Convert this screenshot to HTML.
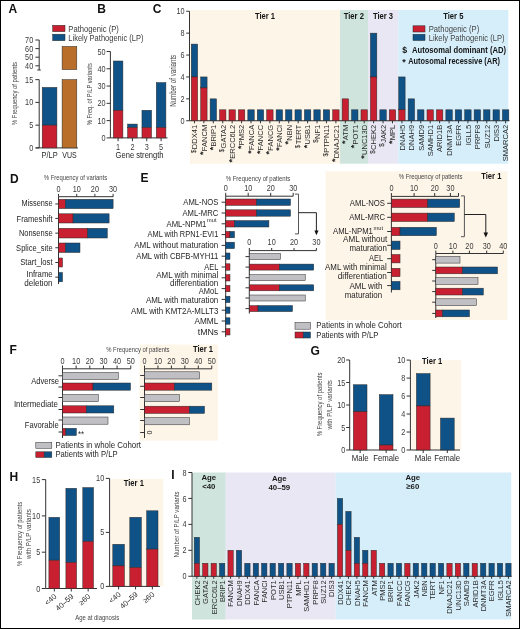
<!DOCTYPE html>
<html><head><meta charset="utf-8"><title>Figure</title>
<style>
html,body{margin:0;padding:0;background:#fff;}
svg{display:block;will-change:transform;}
text{font-family:"Liberation Sans",sans-serif;}
</style></head>
<body>
<svg width="520" height="629" viewBox="0 0 520 629" font-family="Liberation Sans, sans-serif">
<rect x="0.5" y="0.5" width="519" height="628" fill="#fff" stroke="#000" stroke-width="1"/>
<text x="8.5" y="12.8" font-size="12" font-weight="bold" fill="#111">A</text>
<text x="97.3" y="12.5" font-size="12" font-weight="bold" fill="#111">B</text>
<text x="152.7" y="12.5" font-size="12" font-weight="bold" fill="#111">C</text>
<text x="10" y="183" font-size="12" font-weight="bold" fill="#111">D</text>
<text x="140.5" y="182" font-size="12" font-weight="bold" fill="#111">E</text>
<text x="9.5" y="354.3" font-size="12" font-weight="bold" fill="#111">F</text>
<text x="310.5" y="355" font-size="12" font-weight="bold" fill="#111">G</text>
<text x="9.4" y="481" font-size="12" font-weight="bold" fill="#111">H</text>
<text x="171.2" y="479.3" font-size="12" font-weight="bold" fill="#111">I</text>
<rect x="52.70" y="25.30" width="12.30" height="6.40" fill="#c81f31" stroke="#2a2a2a" stroke-width="0.5"/>
<rect x="52.70" y="34.20" width="12.30" height="6.50" fill="#0f5287" stroke="#2a2a2a" stroke-width="0.5"/>
<text x="68.30" y="32.15" font-size="8.13" text-anchor="start" fill="#3a3a3a" textLength="50.60" lengthAdjust="spacingAndGlyphs">Pathogenic (P)</text>
<text x="68.30" y="41.05" font-size="8.13" text-anchor="start" fill="#3a3a3a" textLength="75.20" lengthAdjust="spacingAndGlyphs">Likely Pathogenic (LP)</text>
<line x1="39.20" y1="40.00" x2="39.20" y2="70.00" stroke="#333333" stroke-width="1.0"/>
<line x1="37.30" y1="70.00" x2="40.80" y2="70.00" stroke="#333333" stroke-width="1"/>
<line x1="35.40" y1="40.00" x2="39.20" y2="40.00" stroke="#333333" stroke-width="1.0"/>
<text x="33.20" y="43.07" font-size="8.77" text-anchor="end" fill="#3a3a3a" textLength="8.10" lengthAdjust="spacingAndGlyphs">70</text>
<line x1="35.40" y1="48.60" x2="39.20" y2="48.60" stroke="#333333" stroke-width="1.0"/>
<text x="33.20" y="51.67" font-size="8.77" text-anchor="end" fill="#3a3a3a" textLength="8.10" lengthAdjust="spacingAndGlyphs">60</text>
<line x1="35.40" y1="57.20" x2="39.20" y2="57.20" stroke="#333333" stroke-width="1.0"/>
<text x="33.20" y="60.27" font-size="8.77" text-anchor="end" fill="#3a3a3a" textLength="8.10" lengthAdjust="spacingAndGlyphs">50</text>
<line x1="35.40" y1="65.80" x2="39.20" y2="65.80" stroke="#333333" stroke-width="1.0"/>
<text x="33.20" y="68.87" font-size="8.77" text-anchor="end" fill="#3a3a3a" textLength="8.10" lengthAdjust="spacingAndGlyphs">40</text>
<line x1="39.20" y1="79.60" x2="39.20" y2="147.90" stroke="#333333" stroke-width="1.0"/>
<line x1="35.40" y1="79.65" x2="39.20" y2="79.65" stroke="#333333" stroke-width="1.0"/>
<text x="33.20" y="82.72" font-size="8.77" text-anchor="end" fill="#3a3a3a" textLength="8.10" lengthAdjust="spacingAndGlyphs">15</text>
<line x1="35.40" y1="102.40" x2="39.20" y2="102.40" stroke="#333333" stroke-width="1.0"/>
<text x="33.20" y="105.47" font-size="8.77" text-anchor="end" fill="#3a3a3a" textLength="8.10" lengthAdjust="spacingAndGlyphs">10</text>
<line x1="35.40" y1="125.15" x2="39.20" y2="125.15" stroke="#333333" stroke-width="1.0"/>
<text x="33.20" y="128.22" font-size="8.77" text-anchor="end" fill="#3a3a3a" textLength="4.05" lengthAdjust="spacingAndGlyphs">5</text>
<line x1="35.40" y1="147.90" x2="39.20" y2="147.90" stroke="#333333" stroke-width="1.0"/>
<text x="33.20" y="150.97" font-size="8.77" text-anchor="end" fill="#3a3a3a" textLength="4.05" lengthAdjust="spacingAndGlyphs">0</text>
<line x1="35.80" y1="147.90" x2="77.90" y2="147.90" stroke="#333333" stroke-width="1.0"/>
<rect x="42.20" y="87.39" width="14.70" height="37.77" fill="#0f5287" stroke="#2a2a2a" stroke-width="0.5"/>
<rect x="42.20" y="125.15" width="14.70" height="22.75" fill="#c81f31" stroke="#2a2a2a" stroke-width="0.5"/>
<rect x="62.10" y="79.60" width="14.70" height="68.30" fill="#b96e29" stroke="#2a2a2a" stroke-width="0.5"/>
<rect x="62.10" y="46.40" width="14.70" height="23.20" fill="#b96e29" stroke="#2a2a2a" stroke-width="0.5"/>
<text x="49.60" y="157.95" font-size="8.13" text-anchor="middle" fill="#262626" textLength="16.20" lengthAdjust="spacingAndGlyphs">P/LP</text>
<text x="69.50" y="157.95" font-size="8.13" text-anchor="middle" fill="#262626" textLength="14.40" lengthAdjust="spacingAndGlyphs">VUS</text>
<text transform="translate(17.37,93.50) rotate(-90)" x="0" y="0" font-size="7.92" text-anchor="middle" fill="#444" textLength="63.00" lengthAdjust="spacingAndGlyphs">% Frequency of patients</text>
<line x1="110.40" y1="51.50" x2="110.40" y2="137.90" stroke="#333333" stroke-width="1.0"/>
<line x1="106.60" y1="137.90" x2="110.40" y2="137.90" stroke="#333333" stroke-width="1.0"/>
<text x="105.60" y="140.97" font-size="8.77" text-anchor="end" fill="#3a3a3a" textLength="4.05" lengthAdjust="spacingAndGlyphs">0</text>
<line x1="106.60" y1="120.62" x2="110.40" y2="120.62" stroke="#333333" stroke-width="1.0"/>
<text x="105.60" y="123.69" font-size="8.77" text-anchor="end" fill="#3a3a3a" textLength="8.10" lengthAdjust="spacingAndGlyphs">10</text>
<line x1="106.60" y1="103.34" x2="110.40" y2="103.34" stroke="#333333" stroke-width="1.0"/>
<text x="105.60" y="106.41" font-size="8.77" text-anchor="end" fill="#3a3a3a" textLength="8.10" lengthAdjust="spacingAndGlyphs">20</text>
<line x1="106.60" y1="86.06" x2="110.40" y2="86.06" stroke="#333333" stroke-width="1.0"/>
<text x="105.60" y="89.13" font-size="8.77" text-anchor="end" fill="#3a3a3a" textLength="8.10" lengthAdjust="spacingAndGlyphs">30</text>
<line x1="106.60" y1="68.78" x2="110.40" y2="68.78" stroke="#333333" stroke-width="1.0"/>
<text x="105.60" y="71.85" font-size="8.77" text-anchor="end" fill="#3a3a3a" textLength="8.10" lengthAdjust="spacingAndGlyphs">40</text>
<line x1="106.60" y1="51.50" x2="110.40" y2="51.50" stroke="#333333" stroke-width="1.0"/>
<text x="105.60" y="54.57" font-size="8.77" text-anchor="end" fill="#3a3a3a" textLength="8.10" lengthAdjust="spacingAndGlyphs">50</text>
<line x1="110.40" y1="137.90" x2="167.50" y2="137.90" stroke="#333333" stroke-width="1.0"/>
<rect x="113.30" y="61.00" width="9.60" height="49.25" fill="#0f5287" stroke="#2a2a2a" stroke-width="0.5"/>
<rect x="113.30" y="110.25" width="9.60" height="27.65" fill="#c81f31" stroke="#2a2a2a" stroke-width="0.5"/>
<line x1="118.10" y1="137.90" x2="118.10" y2="141.20" stroke="#333333" stroke-width="1.0"/>
<text x="118.10" y="149.67" font-size="8.77" text-anchor="middle" fill="#3a3a3a" textLength="4.05" lengthAdjust="spacingAndGlyphs">1</text>
<rect x="127.63" y="124.08" width="9.60" height="3.46" fill="#0f5287" stroke="#2a2a2a" stroke-width="0.5"/>
<rect x="127.63" y="127.53" width="9.60" height="10.37" fill="#c81f31" stroke="#2a2a2a" stroke-width="0.5"/>
<line x1="132.43" y1="137.90" x2="132.43" y2="141.20" stroke="#333333" stroke-width="1.0"/>
<text x="132.43" y="149.67" font-size="8.77" text-anchor="middle" fill="#3a3a3a" textLength="4.05" lengthAdjust="spacingAndGlyphs">2</text>
<rect x="141.96" y="110.25" width="9.60" height="17.28" fill="#0f5287" stroke="#2a2a2a" stroke-width="0.5"/>
<rect x="141.96" y="127.53" width="9.60" height="10.37" fill="#c81f31" stroke="#2a2a2a" stroke-width="0.5"/>
<line x1="146.76" y1="137.90" x2="146.76" y2="141.20" stroke="#333333" stroke-width="1.0"/>
<text x="146.76" y="149.67" font-size="8.77" text-anchor="middle" fill="#3a3a3a" textLength="4.05" lengthAdjust="spacingAndGlyphs">3</text>
<rect x="156.29" y="82.60" width="9.60" height="44.93" fill="#0f5287" stroke="#2a2a2a" stroke-width="0.5"/>
<rect x="156.29" y="127.53" width="9.60" height="10.37" fill="#c81f31" stroke="#2a2a2a" stroke-width="0.5"/>
<line x1="161.09" y1="137.90" x2="161.09" y2="141.20" stroke="#333333" stroke-width="1.0"/>
<text x="161.09" y="149.67" font-size="8.77" text-anchor="middle" fill="#3a3a3a" textLength="4.05" lengthAdjust="spacingAndGlyphs">5</text>
<text x="139.60" y="158.05" font-size="8.13" text-anchor="middle" fill="#262626" textLength="48.00" lengthAdjust="spacingAndGlyphs">Gene strength</text>
<text transform="translate(92.37,94.20) rotate(-90)" x="0" y="0" font-size="7.92" text-anchor="middle" fill="#444" textLength="62.00" lengthAdjust="spacingAndGlyphs">% Freq. of P/LP variants</text>
<rect x="190.00" y="10.00" width="150.00" height="153.70" fill="#fef5e9"/>
<rect x="340.00" y="10.00" width="28.00" height="153.70" fill="#cee4dd"/>
<rect x="368.00" y="10.00" width="30.30" height="153.70" fill="#e8e7f3"/>
<rect x="398.30" y="10.00" width="110.00" height="153.70" fill="#d5eefa"/>
<line x1="189.50" y1="11.25" x2="189.50" y2="120.75" stroke="#333333" stroke-width="1.0"/>
<line x1="186.20" y1="120.75" x2="189.50" y2="120.75" stroke="#333333" stroke-width="1.0"/>
<text x="184.60" y="123.82" font-size="8.77" text-anchor="end" fill="#3a3a3a" textLength="4.05" lengthAdjust="spacingAndGlyphs">0</text>
<line x1="186.20" y1="98.85" x2="189.50" y2="98.85" stroke="#333333" stroke-width="1.0"/>
<text x="184.60" y="101.92" font-size="8.77" text-anchor="end" fill="#3a3a3a" textLength="4.05" lengthAdjust="spacingAndGlyphs">2</text>
<line x1="186.20" y1="76.95" x2="189.50" y2="76.95" stroke="#333333" stroke-width="1.0"/>
<text x="184.60" y="80.02" font-size="8.77" text-anchor="end" fill="#3a3a3a" textLength="4.05" lengthAdjust="spacingAndGlyphs">4</text>
<line x1="186.20" y1="55.05" x2="189.50" y2="55.05" stroke="#333333" stroke-width="1.0"/>
<text x="184.60" y="58.12" font-size="8.77" text-anchor="end" fill="#3a3a3a" textLength="4.05" lengthAdjust="spacingAndGlyphs">6</text>
<line x1="186.20" y1="33.15" x2="189.50" y2="33.15" stroke="#333333" stroke-width="1.0"/>
<text x="184.60" y="36.22" font-size="8.77" text-anchor="end" fill="#3a3a3a" textLength="4.05" lengthAdjust="spacingAndGlyphs">8</text>
<line x1="186.20" y1="11.25" x2="189.50" y2="11.25" stroke="#333333" stroke-width="1.0"/>
<text x="184.60" y="14.32" font-size="8.77" text-anchor="end" fill="#3a3a3a" textLength="8.10" lengthAdjust="spacingAndGlyphs">10</text>
<line x1="189.50" y1="120.75" x2="509.50" y2="120.75" stroke="#333333" stroke-width="1.0"/>
<rect x="191.25" y="44.10" width="6.40" height="32.85" fill="#0f5287" stroke="#2a2a2a" stroke-width="0.5"/>
<rect x="191.25" y="76.95" width="6.40" height="43.80" fill="#c81f31" stroke="#2a2a2a" stroke-width="0.5"/>
<line x1="194.45" y1="120.75" x2="194.45" y2="123.30" stroke="#333333" stroke-width="1.0"/>
<g transform="translate(197.28,124.80) rotate(-90)"><text x="0" y="0" font-size="8.1" text-anchor="end" fill="#2a2a2a" textLength="24.34" lengthAdjust="spacingAndGlyphs">DDX41</text><text x="-24.64" y="-1.42" font-size="6.3" text-anchor="end" fill="#2a2a2a">$</text></g>
<rect x="200.68" y="76.95" width="6.40" height="10.95" fill="#0f5287" stroke="#2a2a2a" stroke-width="0.5"/>
<rect x="200.68" y="87.90" width="6.40" height="32.85" fill="#c81f31" stroke="#2a2a2a" stroke-width="0.5"/>
<line x1="203.88" y1="120.75" x2="203.88" y2="123.30" stroke="#333333" stroke-width="1.0"/>
<g transform="translate(206.72,124.80) rotate(-90)"><text x="0" y="0" font-size="8.1" text-anchor="end" fill="#2a2a2a" textLength="26.43" lengthAdjust="spacingAndGlyphs">FANCM</text><text x="-26.62" y="-0.28" font-size="9" font-weight="bold" text-anchor="end" fill="#2a2a2a">*</text></g>
<rect x="210.11" y="98.85" width="6.40" height="21.90" fill="#0f5287" stroke="#2a2a2a" stroke-width="0.5"/>
<line x1="213.31" y1="120.75" x2="213.31" y2="123.30" stroke="#333333" stroke-width="1.0"/>
<g transform="translate(216.15,124.80) rotate(-90)"><text x="0" y="0" font-size="8.1" text-anchor="end" fill="#2a2a2a" textLength="21.82" lengthAdjust="spacingAndGlyphs">BRIP1</text><text x="-22.02" y="-0.28" font-size="9" font-weight="bold" text-anchor="end" fill="#2a2a2a">*</text></g>
<rect x="219.54" y="109.80" width="6.40" height="10.95" fill="#c81f31" stroke="#2a2a2a" stroke-width="0.5"/>
<line x1="222.74" y1="120.75" x2="222.74" y2="123.30" stroke="#333333" stroke-width="1.0"/>
<g transform="translate(225.58,124.80) rotate(-90)"><text x="0" y="0" font-size="8.1" text-anchor="end" fill="#2a2a2a" textLength="23.63" lengthAdjust="spacingAndGlyphs">GATA2</text><text x="-23.93" y="-1.42" font-size="6.3" text-anchor="end" fill="#2a2a2a">$</text></g>
<rect x="228.97" y="109.80" width="6.40" height="10.95" fill="#c81f31" stroke="#2a2a2a" stroke-width="0.5"/>
<line x1="232.17" y1="120.75" x2="232.17" y2="123.30" stroke="#333333" stroke-width="1.0"/>
<g transform="translate(235.01,124.80) rotate(-90)"><text x="0" y="0" font-size="8.1" text-anchor="end" fill="#2a2a2a" textLength="33.99" lengthAdjust="spacingAndGlyphs">ERCC6L2</text><text x="-34.19" y="-0.28" font-size="9" font-weight="bold" text-anchor="end" fill="#2a2a2a">*</text></g>
<rect x="238.40" y="109.80" width="6.40" height="10.95" fill="#c81f31" stroke="#2a2a2a" stroke-width="0.5"/>
<line x1="241.60" y1="120.75" x2="241.60" y2="123.30" stroke="#333333" stroke-width="1.0"/>
<g transform="translate(244.44,124.80) rotate(-90)"><text x="0" y="0" font-size="8.1" text-anchor="end" fill="#2a2a2a" textLength="20.56" lengthAdjust="spacingAndGlyphs">PMS2</text><text x="-20.76" y="-0.28" font-size="9" font-weight="bold" text-anchor="end" fill="#2a2a2a">*</text></g>
<rect x="247.83" y="109.80" width="6.40" height="10.95" fill="#0f5287" stroke="#2a2a2a" stroke-width="0.5"/>
<line x1="251.03" y1="120.75" x2="251.03" y2="123.30" stroke="#333333" stroke-width="1.0"/>
<g transform="translate(253.86,124.80) rotate(-90)"><text x="0" y="0" font-size="8.1" text-anchor="end" fill="#2a2a2a" textLength="25.17" lengthAdjust="spacingAndGlyphs">FANCA</text><text x="-25.37" y="-0.28" font-size="9" font-weight="bold" text-anchor="end" fill="#2a2a2a">*</text></g>
<rect x="257.26" y="109.80" width="6.40" height="10.95" fill="#0f5287" stroke="#2a2a2a" stroke-width="0.5"/>
<line x1="260.46" y1="120.75" x2="260.46" y2="123.30" stroke="#333333" stroke-width="1.0"/>
<g transform="translate(263.29,124.80) rotate(-90)"><text x="0" y="0" font-size="8.1" text-anchor="end" fill="#2a2a2a" textLength="25.59" lengthAdjust="spacingAndGlyphs">FANCC</text><text x="-25.79" y="-0.28" font-size="9" font-weight="bold" text-anchor="end" fill="#2a2a2a">*</text></g>
<rect x="266.69" y="109.80" width="6.40" height="10.95" fill="#c81f31" stroke="#2a2a2a" stroke-width="0.5"/>
<line x1="269.89" y1="120.75" x2="269.89" y2="123.30" stroke="#333333" stroke-width="1.0"/>
<g transform="translate(272.72,124.80) rotate(-90)"><text x="0" y="0" font-size="8.1" text-anchor="end" fill="#2a2a2a" textLength="26.01" lengthAdjust="spacingAndGlyphs">FANCG</text><text x="-26.21" y="-0.28" font-size="9" font-weight="bold" text-anchor="end" fill="#2a2a2a">*</text></g>
<rect x="276.12" y="109.80" width="6.40" height="10.95" fill="#0f5287" stroke="#2a2a2a" stroke-width="0.5"/>
<line x1="279.32" y1="120.75" x2="279.32" y2="123.30" stroke="#333333" stroke-width="1.0"/>
<g transform="translate(282.15,124.80) rotate(-90)"><text x="0" y="0" font-size="8.1" text-anchor="end" fill="#2a2a2a" textLength="22.23" lengthAdjust="spacingAndGlyphs">FANCI</text><text x="-22.43" y="-0.28" font-size="9" font-weight="bold" text-anchor="end" fill="#2a2a2a">*</text></g>
<rect x="285.55" y="109.80" width="6.40" height="10.95" fill="#0f5287" stroke="#2a2a2a" stroke-width="0.5"/>
<line x1="288.75" y1="120.75" x2="288.75" y2="123.30" stroke="#333333" stroke-width="1.0"/>
<g transform="translate(291.58,124.80) rotate(-90)"><text x="0" y="0" font-size="8.1" text-anchor="end" fill="#2a2a2a" textLength="15.94" lengthAdjust="spacingAndGlyphs">NBN</text><text x="-16.14" y="-0.28" font-size="9" font-weight="bold" text-anchor="end" fill="#2a2a2a">*</text></g>
<rect x="294.98" y="109.80" width="6.40" height="10.95" fill="#0f5287" stroke="#2a2a2a" stroke-width="0.5"/>
<line x1="298.18" y1="120.75" x2="298.18" y2="123.30" stroke="#333333" stroke-width="1.0"/>
<g transform="translate(301.01,124.80) rotate(-90)"><text x="0" y="0" font-size="8.1" text-anchor="end" fill="#2a2a2a" textLength="19.57" lengthAdjust="spacingAndGlyphs">TERT</text><text x="-19.87" y="-1.42" font-size="6.3" text-anchor="end" fill="#2a2a2a">$</text></g>
<rect x="304.41" y="109.80" width="6.40" height="10.95" fill="#0f5287" stroke="#2a2a2a" stroke-width="0.5"/>
<line x1="307.61" y1="120.75" x2="307.61" y2="123.30" stroke="#333333" stroke-width="1.0"/>
<g transform="translate(310.44,124.80) rotate(-90)"><text x="0" y="0" font-size="8.1" text-anchor="end" fill="#2a2a2a" textLength="19.72" lengthAdjust="spacingAndGlyphs">USB1</text><text x="-19.92" y="-0.28" font-size="9" font-weight="bold" text-anchor="end" fill="#2a2a2a">*</text></g>
<rect x="313.84" y="109.80" width="6.40" height="10.95" fill="#0f5287" stroke="#2a2a2a" stroke-width="0.5"/>
<line x1="317.04" y1="120.75" x2="317.04" y2="123.30" stroke="#333333" stroke-width="1.0"/>
<g transform="translate(319.88,124.80) rotate(-90)"><text x="0" y="0" font-size="8.1" text-anchor="end" fill="#2a2a2a" textLength="14.26" lengthAdjust="spacingAndGlyphs">NF1</text><text x="-14.56" y="-1.42" font-size="6.3" text-anchor="end" fill="#2a2a2a">$</text></g>
<rect x="323.27" y="109.80" width="6.40" height="10.95" fill="#0f5287" stroke="#2a2a2a" stroke-width="0.5"/>
<line x1="326.47" y1="120.75" x2="326.47" y2="123.30" stroke="#333333" stroke-width="1.0"/>
<g transform="translate(329.30,124.80) rotate(-90)"><text x="0" y="0" font-size="8.1" text-anchor="end" fill="#2a2a2a" textLength="27.97" lengthAdjust="spacingAndGlyphs">PTPN11</text><text x="-28.27" y="-1.42" font-size="6.3" text-anchor="end" fill="#2a2a2a">$</text></g>
<rect x="332.70" y="109.80" width="6.40" height="10.95" fill="#c81f31" stroke="#2a2a2a" stroke-width="0.5"/>
<line x1="335.90" y1="120.75" x2="335.90" y2="123.30" stroke="#333333" stroke-width="1.0"/>
<g transform="translate(338.73,124.80) rotate(-90)"><text x="0" y="0" font-size="8.1" text-anchor="end" fill="#2a2a2a" textLength="33.57" lengthAdjust="spacingAndGlyphs">DNAJC21</text><text x="-33.77" y="-0.28" font-size="9" font-weight="bold" text-anchor="end" fill="#2a2a2a">*</text></g>
<rect x="342.13" y="98.85" width="6.40" height="21.90" fill="#c81f31" stroke="#2a2a2a" stroke-width="0.5"/>
<line x1="345.33" y1="120.75" x2="345.33" y2="123.30" stroke="#333333" stroke-width="1.0"/>
<g transform="translate(348.16,124.80) rotate(-90)"><text x="0" y="0" font-size="8.1" text-anchor="end" fill="#2a2a2a" textLength="15.38" lengthAdjust="spacingAndGlyphs">ATM</text><text x="-15.58" y="-0.28" font-size="9" font-weight="bold" text-anchor="end" fill="#2a2a2a">*</text></g>
<rect x="351.56" y="109.80" width="6.40" height="10.95" fill="#0f5287" stroke="#2a2a2a" stroke-width="0.5"/>
<line x1="354.76" y1="120.75" x2="354.76" y2="123.30" stroke="#333333" stroke-width="1.0"/>
<g transform="translate(357.59,124.80) rotate(-90)"><text x="0" y="0" font-size="8.1" text-anchor="end" fill="#2a2a2a" textLength="19.72" lengthAdjust="spacingAndGlyphs">POT1</text><text x="-19.92" y="-0.28" font-size="9" font-weight="bold" text-anchor="end" fill="#2a2a2a">*</text></g>
<rect x="360.99" y="109.80" width="6.40" height="10.95" fill="#c81f31" stroke="#2a2a2a" stroke-width="0.5"/>
<line x1="364.19" y1="120.75" x2="364.19" y2="123.30" stroke="#333333" stroke-width="1.0"/>
<g transform="translate(367.02,124.80) rotate(-90)"><text x="0" y="0" font-size="8.1" text-anchor="end" fill="#2a2a2a" textLength="30.21" lengthAdjust="spacingAndGlyphs">UNC13D</text><text x="-30.41" y="-0.28" font-size="9" font-weight="bold" text-anchor="end" fill="#2a2a2a">*</text></g>
<rect x="370.42" y="33.15" width="6.40" height="43.80" fill="#0f5287" stroke="#2a2a2a" stroke-width="0.5"/>
<rect x="370.42" y="76.95" width="6.40" height="43.80" fill="#c81f31" stroke="#2a2a2a" stroke-width="0.5"/>
<line x1="373.62" y1="120.75" x2="373.62" y2="123.30" stroke="#333333" stroke-width="1.0"/>
<g transform="translate(376.45,124.80) rotate(-90)"><text x="0" y="0" font-size="8.1" text-anchor="end" fill="#2a2a2a" textLength="25.18" lengthAdjust="spacingAndGlyphs">CHEK2</text><text x="-25.48" y="-1.42" font-size="6.3" text-anchor="end" fill="#2a2a2a">$</text></g>
<rect x="379.85" y="109.80" width="6.40" height="10.95" fill="#0f5287" stroke="#2a2a2a" stroke-width="0.5"/>
<line x1="383.05" y1="120.75" x2="383.05" y2="123.30" stroke="#333333" stroke-width="1.0"/>
<g transform="translate(385.88,124.80) rotate(-90)"><text x="0" y="0" font-size="8.1" text-anchor="end" fill="#2a2a2a" textLength="18.05" lengthAdjust="spacingAndGlyphs">JAK2</text><text x="-18.35" y="-1.42" font-size="6.3" text-anchor="end" fill="#2a2a2a">$</text></g>
<rect x="389.28" y="109.80" width="6.40" height="10.95" fill="#c81f31" stroke="#2a2a2a" stroke-width="0.5"/>
<line x1="392.48" y1="120.75" x2="392.48" y2="123.30" stroke="#333333" stroke-width="1.0"/>
<g transform="translate(395.31,124.80) rotate(-90)"><text x="0" y="0" font-size="8.1" text-anchor="end" fill="#2a2a2a" textLength="15.52" lengthAdjust="spacingAndGlyphs">MPL</text><text x="-15.72" y="-0.28" font-size="9" font-weight="bold" text-anchor="end" fill="#2a2a2a">*</text></g>
<rect x="398.71" y="76.95" width="6.40" height="32.85" fill="#0f5287" stroke="#2a2a2a" stroke-width="0.5"/>
<rect x="398.71" y="109.80" width="6.40" height="10.95" fill="#c81f31" stroke="#2a2a2a" stroke-width="0.5"/>
<line x1="401.91" y1="120.75" x2="401.91" y2="123.30" stroke="#333333" stroke-width="1.0"/>
<g transform="translate(404.74,124.80) rotate(-90)"><text x="0" y="0" font-size="8.1" text-anchor="end" fill="#2a2a2a" textLength="25.59" lengthAdjust="spacingAndGlyphs">DNAH5</text></g>
<rect x="408.14" y="98.85" width="6.40" height="21.90" fill="#0f5287" stroke="#2a2a2a" stroke-width="0.5"/>
<line x1="411.34" y1="120.75" x2="411.34" y2="123.30" stroke="#333333" stroke-width="1.0"/>
<g transform="translate(414.17,124.80) rotate(-90)"><text x="0" y="0" font-size="8.1" text-anchor="end" fill="#2a2a2a" textLength="25.59" lengthAdjust="spacingAndGlyphs">DNAH9</text></g>
<rect x="417.57" y="109.80" width="6.40" height="10.95" fill="#0f5287" stroke="#2a2a2a" stroke-width="0.5"/>
<line x1="420.77" y1="120.75" x2="420.77" y2="123.30" stroke="#333333" stroke-width="1.0"/>
<g transform="translate(423.60,124.80) rotate(-90)"><text x="0" y="0" font-size="8.1" text-anchor="end" fill="#2a2a2a" textLength="26.01" lengthAdjust="spacingAndGlyphs">SAMD9</text></g>
<rect x="427.00" y="109.80" width="6.40" height="10.95" fill="#c81f31" stroke="#2a2a2a" stroke-width="0.5"/>
<line x1="430.20" y1="120.75" x2="430.20" y2="123.30" stroke="#333333" stroke-width="1.0"/>
<g transform="translate(433.03,124.80) rotate(-90)"><text x="0" y="0" font-size="8.1" text-anchor="end" fill="#2a2a2a" textLength="31.46" lengthAdjust="spacingAndGlyphs">SAMHD1</text></g>
<rect x="436.43" y="109.80" width="6.40" height="10.95" fill="#c81f31" stroke="#2a2a2a" stroke-width="0.5"/>
<line x1="439.63" y1="120.75" x2="439.63" y2="123.30" stroke="#333333" stroke-width="1.0"/>
<g transform="translate(442.46,124.80) rotate(-90)"><text x="0" y="0" font-size="8.1" text-anchor="end" fill="#2a2a2a" textLength="27.27" lengthAdjust="spacingAndGlyphs">ARID1B</text></g>
<rect x="445.86" y="109.80" width="6.40" height="10.95" fill="#0f5287" stroke="#2a2a2a" stroke-width="0.5"/>
<line x1="449.06" y1="120.75" x2="449.06" y2="123.30" stroke="#333333" stroke-width="1.0"/>
<g transform="translate(451.89,124.80) rotate(-90)"><text x="0" y="0" font-size="8.1" text-anchor="end" fill="#2a2a2a" textLength="31.04" lengthAdjust="spacingAndGlyphs">DNMT3A</text></g>
<rect x="455.29" y="109.80" width="6.40" height="10.95" fill="#0f5287" stroke="#2a2a2a" stroke-width="0.5"/>
<line x1="458.49" y1="120.75" x2="458.49" y2="123.30" stroke="#333333" stroke-width="1.0"/>
<g transform="translate(461.32,124.80) rotate(-90)"><text x="0" y="0" font-size="8.1" text-anchor="end" fill="#2a2a2a" textLength="20.97" lengthAdjust="spacingAndGlyphs">EGFR</text></g>
<rect x="464.72" y="109.80" width="6.40" height="10.95" fill="#0f5287" stroke="#2a2a2a" stroke-width="0.5"/>
<line x1="467.92" y1="120.75" x2="467.92" y2="123.30" stroke="#333333" stroke-width="1.0"/>
<g transform="translate(470.75,124.80) rotate(-90)"><text x="0" y="0" font-size="8.1" text-anchor="end" fill="#2a2a2a" textLength="20.57" lengthAdjust="spacingAndGlyphs">IGLL5</text></g>
<rect x="474.15" y="109.80" width="6.40" height="10.95" fill="#0f5287" stroke="#2a2a2a" stroke-width="0.5"/>
<line x1="477.35" y1="120.75" x2="477.35" y2="123.30" stroke="#333333" stroke-width="1.0"/>
<g transform="translate(480.18,124.80) rotate(-90)"><text x="0" y="0" font-size="8.1" text-anchor="end" fill="#2a2a2a" textLength="24.33" lengthAdjust="spacingAndGlyphs">PRPF8</text></g>
<rect x="483.58" y="109.80" width="6.40" height="10.95" fill="#0f5287" stroke="#2a2a2a" stroke-width="0.5"/>
<line x1="486.78" y1="120.75" x2="486.78" y2="123.30" stroke="#333333" stroke-width="1.0"/>
<g transform="translate(489.61,124.80) rotate(-90)"><text x="0" y="0" font-size="8.1" text-anchor="end" fill="#2a2a2a" textLength="23.50" lengthAdjust="spacingAndGlyphs">SUZ12</text></g>
<rect x="493.01" y="109.80" width="6.40" height="10.95" fill="#0f5287" stroke="#2a2a2a" stroke-width="0.5"/>
<line x1="496.21" y1="120.75" x2="496.21" y2="123.30" stroke="#333333" stroke-width="1.0"/>
<g transform="translate(499.04,124.80) rotate(-90)"><text x="0" y="0" font-size="8.1" text-anchor="end" fill="#2a2a2a" textLength="16.78" lengthAdjust="spacingAndGlyphs">DIS3</text></g>
<rect x="502.44" y="109.80" width="6.40" height="10.95" fill="#0f5287" stroke="#2a2a2a" stroke-width="0.5"/>
<line x1="505.64" y1="120.75" x2="505.64" y2="123.30" stroke="#333333" stroke-width="1.0"/>
<g transform="translate(508.47,124.80) rotate(-90)"><text x="0" y="0" font-size="8.1" text-anchor="end" fill="#2a2a2a" textLength="36.50" lengthAdjust="spacingAndGlyphs">SMARCA2</text></g>
<text x="265.00" y="18.61" font-size="8.3" text-anchor="middle" fill="#141414" font-weight="bold" textLength="20.20" lengthAdjust="spacingAndGlyphs">Tier 1</text>
<text x="353.80" y="18.61" font-size="8.3" text-anchor="middle" fill="#141414" font-weight="bold" textLength="20.20" lengthAdjust="spacingAndGlyphs">Tier 2</text>
<text x="383.00" y="18.61" font-size="8.3" text-anchor="middle" fill="#141414" font-weight="bold" textLength="20.20" lengthAdjust="spacingAndGlyphs">Tier 3</text>
<text x="453.30" y="18.61" font-size="8.3" text-anchor="middle" fill="#141414" font-weight="bold" textLength="20.20" lengthAdjust="spacingAndGlyphs">Tier 5</text>
<text transform="translate(176.25,80.80) rotate(-90)" x="0" y="0" font-size="8.13" text-anchor="middle" fill="#444" textLength="52.00" lengthAdjust="spacingAndGlyphs">Number of variants</text>
<rect x="413.00" y="25.80" width="12.00" height="6.20" fill="#c81f31" stroke="#2a2a2a" stroke-width="0.5"/>
<rect x="413.00" y="34.30" width="12.00" height="6.20" fill="#0f5287" stroke="#2a2a2a" stroke-width="0.5"/>
<text x="428.70" y="31.65" font-size="8.13" text-anchor="start" fill="#444" textLength="50.50" lengthAdjust="spacingAndGlyphs">Pathogenic (P)</text>
<text x="428.70" y="40.65" font-size="8.13" text-anchor="start" fill="#444" textLength="75.80" lengthAdjust="spacingAndGlyphs">Likely Pathogenic (LP)</text>
<text x="402.20" y="53.38" font-size="8.8" text-anchor="start" fill="#141414" font-weight="bold">$</text>
<text x="412.00" y="53.14" font-size="8.4" text-anchor="start" fill="#141414" font-weight="bold" textLength="94.00" lengthAdjust="spacingAndGlyphs">Autosomal dominant (AD)</text>
<text x="402.20" y="64.95" font-size="9" text-anchor="start" fill="#141414" font-weight="bold">*</text>
<text x="408.20" y="63.64" font-size="8.4" text-anchor="start" fill="#141414" font-weight="bold" textLength="91.80" lengthAdjust="spacingAndGlyphs">Autosomal recessive (AR)</text>
<text x="75.50" y="180.00" font-size="7.7" text-anchor="middle" fill="#444" textLength="63.40" lengthAdjust="spacingAndGlyphs">% Frequency of variants</text>
<line x1="58.50" y1="196.70" x2="113.30" y2="196.70" stroke="#333333" stroke-width="1.0"/>
<line x1="58.50" y1="193.90" x2="58.50" y2="196.70" stroke="#333333" stroke-width="1.0"/>
<text x="58.50" y="192.07" font-size="8.77" text-anchor="middle" fill="#3a3a3a" textLength="4.05" lengthAdjust="spacingAndGlyphs">0</text>
<line x1="76.70" y1="193.90" x2="76.70" y2="196.70" stroke="#333333" stroke-width="1.0"/>
<text x="76.70" y="192.07" font-size="8.77" text-anchor="middle" fill="#3a3a3a" textLength="8.10" lengthAdjust="spacingAndGlyphs">10</text>
<line x1="94.90" y1="193.90" x2="94.90" y2="196.70" stroke="#333333" stroke-width="1.0"/>
<text x="94.90" y="192.07" font-size="8.77" text-anchor="middle" fill="#3a3a3a" textLength="8.10" lengthAdjust="spacingAndGlyphs">20</text>
<line x1="113.10" y1="193.90" x2="113.10" y2="196.70" stroke="#333333" stroke-width="1.0"/>
<text x="113.10" y="192.07" font-size="8.77" text-anchor="middle" fill="#3a3a3a" textLength="8.10" lengthAdjust="spacingAndGlyphs">30</text>
<line x1="58.50" y1="196.70" x2="58.50" y2="284.00" stroke="#333333" stroke-width="1.0"/>
<rect x="58.50" y="199.30" width="6.92" height="9.30" fill="#c81f31" stroke="#2a2a2a" stroke-width="0.5"/>
<rect x="65.42" y="199.30" width="47.68" height="9.30" fill="#0f5287" stroke="#2a2a2a" stroke-width="0.5"/>
<line x1="55.30" y1="203.95" x2="58.50" y2="203.95" stroke="#333333" stroke-width="1.0"/>
<rect x="58.50" y="213.80" width="14.56" height="9.20" fill="#c81f31" stroke="#2a2a2a" stroke-width="0.5"/>
<rect x="73.06" y="213.80" width="36.04" height="9.20" fill="#0f5287" stroke="#2a2a2a" stroke-width="0.5"/>
<line x1="55.30" y1="218.40" x2="58.50" y2="218.40" stroke="#333333" stroke-width="1.0"/>
<rect x="58.50" y="228.30" width="29.12" height="9.70" fill="#c81f31" stroke="#2a2a2a" stroke-width="0.5"/>
<rect x="87.62" y="228.30" width="19.66" height="9.70" fill="#0f5287" stroke="#2a2a2a" stroke-width="0.5"/>
<line x1="55.30" y1="233.15" x2="58.50" y2="233.15" stroke="#333333" stroke-width="1.0"/>
<rect x="58.50" y="243.00" width="6.92" height="9.50" fill="#c81f31" stroke="#2a2a2a" stroke-width="0.5"/>
<rect x="65.42" y="243.00" width="14.56" height="9.50" fill="#0f5287" stroke="#2a2a2a" stroke-width="0.5"/>
<line x1="55.30" y1="247.75" x2="58.50" y2="247.75" stroke="#333333" stroke-width="1.0"/>
<rect x="58.50" y="258.00" width="4.00" height="9.00" fill="#c81f31" stroke="#2a2a2a" stroke-width="0.5"/>
<line x1="55.30" y1="262.50" x2="58.50" y2="262.50" stroke="#333333" stroke-width="1.0"/>
<rect x="58.50" y="272.50" width="4.00" height="9.30" fill="#0f5287" stroke="#2a2a2a" stroke-width="0.5"/>
<line x1="55.30" y1="277.15" x2="58.50" y2="277.15" stroke="#333333" stroke-width="1.0"/>
<text x="52.60" y="206.42" font-size="8.35" text-anchor="end" fill="#262626" textLength="31.00" lengthAdjust="spacingAndGlyphs">Missense</text>
<text x="52.60" y="221.52" font-size="8.35" text-anchor="end" fill="#262626" textLength="36.00" lengthAdjust="spacingAndGlyphs">Frameshift</text>
<text x="52.60" y="236.22" font-size="8.35" text-anchor="end" fill="#262626" textLength="33.70" lengthAdjust="spacingAndGlyphs">Nonsense</text>
<text x="52.60" y="250.52" font-size="8.35" text-anchor="end" fill="#262626" textLength="36.50" lengthAdjust="spacingAndGlyphs">Splice_site</text>
<text x="52.60" y="265.22" font-size="8.35" text-anchor="end" fill="#262626" textLength="32.40" lengthAdjust="spacingAndGlyphs">Start_lost</text>
<text x="52.60" y="277.22" font-size="8.35" text-anchor="end" fill="#262626" textLength="26.10" lengthAdjust="spacingAndGlyphs">Inframe</text>
<text x="52.60" y="286.12" font-size="8.35" text-anchor="end" fill="#262626" textLength="28.40" lengthAdjust="spacingAndGlyphs">deletion</text>
<text x="258.00" y="180.50" font-size="7.7" text-anchor="middle" fill="#444" textLength="64.60" lengthAdjust="spacingAndGlyphs">% Frequency of patients</text>
<line x1="225.70" y1="196.20" x2="293.20" y2="196.20" stroke="#333333" stroke-width="1.0"/>
<line x1="225.70" y1="192.80" x2="225.70" y2="196.20" stroke="#333333" stroke-width="1.0"/>
<text x="225.70" y="191.37" font-size="8.77" text-anchor="middle" fill="#3a3a3a" textLength="4.05" lengthAdjust="spacingAndGlyphs">0</text>
<line x1="248.20" y1="192.80" x2="248.20" y2="196.20" stroke="#333333" stroke-width="1.0"/>
<text x="248.20" y="191.37" font-size="8.77" text-anchor="middle" fill="#3a3a3a" textLength="8.10" lengthAdjust="spacingAndGlyphs">10</text>
<line x1="270.70" y1="192.80" x2="270.70" y2="196.20" stroke="#333333" stroke-width="1.0"/>
<text x="270.70" y="191.37" font-size="8.77" text-anchor="middle" fill="#3a3a3a" textLength="8.10" lengthAdjust="spacingAndGlyphs">20</text>
<line x1="293.20" y1="192.80" x2="293.20" y2="196.20" stroke="#333333" stroke-width="1.0"/>
<text x="293.20" y="191.37" font-size="8.77" text-anchor="middle" fill="#3a3a3a" textLength="8.10" lengthAdjust="spacingAndGlyphs">30</text>
<line x1="225.70" y1="196.20" x2="225.70" y2="337.00" stroke="#333333" stroke-width="1.0"/>
<rect x="225.70" y="199.00" width="30.82" height="6.40" fill="#c81f31" stroke="#2a2a2a" stroke-width="0.5"/>
<rect x="256.52" y="199.00" width="33.98" height="6.40" fill="#0f5287" stroke="#2a2a2a" stroke-width="0.5"/>
<line x1="221.60" y1="202.20" x2="225.70" y2="202.20" stroke="#333333" stroke-width="1.0"/>
<rect x="225.70" y="209.80" width="30.82" height="6.40" fill="#c81f31" stroke="#2a2a2a" stroke-width="0.5"/>
<rect x="256.52" y="209.80" width="33.98" height="6.40" fill="#0f5287" stroke="#2a2a2a" stroke-width="0.5"/>
<line x1="221.60" y1="213.00" x2="225.70" y2="213.00" stroke="#333333" stroke-width="1.0"/>
<rect x="225.70" y="220.60" width="8.78" height="6.40" fill="#c81f31" stroke="#2a2a2a" stroke-width="0.5"/>
<rect x="234.47" y="220.60" width="34.42" height="6.40" fill="#0f5287" stroke="#2a2a2a" stroke-width="0.5"/>
<line x1="221.60" y1="223.80" x2="225.70" y2="223.80" stroke="#333333" stroke-width="1.0"/>
<rect x="225.70" y="231.40" width="4.28" height="6.40" fill="#c81f31" stroke="#2a2a2a" stroke-width="0.5"/>
<rect x="229.97" y="231.40" width="4.50" height="6.40" fill="#0f5287" stroke="#2a2a2a" stroke-width="0.5"/>
<line x1="221.60" y1="234.60" x2="225.70" y2="234.60" stroke="#333333" stroke-width="1.0"/>
<rect x="225.70" y="242.20" width="8.78" height="6.40" fill="#0f5287" stroke="#2a2a2a" stroke-width="0.5"/>
<line x1="221.60" y1="245.40" x2="225.70" y2="245.40" stroke="#333333" stroke-width="1.0"/>
<rect x="225.70" y="253.00" width="4.28" height="6.40" fill="#0f5287" stroke="#2a2a2a" stroke-width="0.5"/>
<line x1="221.60" y1="256.20" x2="225.70" y2="256.20" stroke="#333333" stroke-width="1.0"/>
<rect x="225.70" y="263.80" width="4.28" height="6.40" fill="#c81f31" stroke="#2a2a2a" stroke-width="0.5"/>
<line x1="221.60" y1="267.00" x2="225.70" y2="267.00" stroke="#333333" stroke-width="1.0"/>
<rect x="225.70" y="274.60" width="4.28" height="6.40" fill="#c81f31" stroke="#2a2a2a" stroke-width="0.5"/>
<line x1="221.60" y1="277.80" x2="225.70" y2="277.80" stroke="#333333" stroke-width="1.0"/>
<rect x="225.70" y="285.40" width="4.28" height="6.40" fill="#c81f31" stroke="#2a2a2a" stroke-width="0.5"/>
<line x1="221.60" y1="288.60" x2="225.70" y2="288.60" stroke="#333333" stroke-width="1.0"/>
<rect x="225.70" y="296.20" width="4.28" height="6.40" fill="#0f5287" stroke="#2a2a2a" stroke-width="0.5"/>
<line x1="221.60" y1="299.40" x2="225.70" y2="299.40" stroke="#333333" stroke-width="1.0"/>
<rect x="225.70" y="307.00" width="4.28" height="6.40" fill="#0f5287" stroke="#2a2a2a" stroke-width="0.5"/>
<line x1="221.60" y1="310.20" x2="225.70" y2="310.20" stroke="#333333" stroke-width="1.0"/>
<rect x="225.70" y="317.80" width="4.28" height="6.40" fill="#0f5287" stroke="#2a2a2a" stroke-width="0.5"/>
<line x1="221.60" y1="321.00" x2="225.70" y2="321.00" stroke="#333333" stroke-width="1.0"/>
<rect x="225.70" y="328.60" width="4.28" height="6.40" fill="#c81f31" stroke="#2a2a2a" stroke-width="0.5"/>
<line x1="221.60" y1="331.80" x2="225.70" y2="331.80" stroke="#333333" stroke-width="1.0"/>
<text x="218.30" y="205.42" font-size="8.35" text-anchor="end" fill="#262626" textLength="35.05" lengthAdjust="spacingAndGlyphs">AML-NOS</text>
<text x="218.30" y="216.12" font-size="8.35" text-anchor="end" fill="#262626" textLength="35.80" lengthAdjust="spacingAndGlyphs">AML-MRC</text>
<text x="218.30" y="237.42" font-size="8.35" text-anchor="end" fill="#262626" textLength="70.80" lengthAdjust="spacingAndGlyphs">AML with RPN1-EVI1</text>
<text x="218.30" y="248.42" font-size="8.35" text-anchor="end" fill="#262626" textLength="84.05" lengthAdjust="spacingAndGlyphs">AML without maturation</text>
<text x="218.30" y="259.32" font-size="8.35" text-anchor="end" fill="#262626" textLength="82.05" lengthAdjust="spacingAndGlyphs">AML with CBFB-MYH11</text>
<text x="218.30" y="270.22" font-size="8.35" text-anchor="end" fill="#262626" textLength="14.05" lengthAdjust="spacingAndGlyphs">AEL</text>
<text x="218.30" y="277.72" font-size="8.35" text-anchor="end" fill="#262626" textLength="62.05" lengthAdjust="spacingAndGlyphs">AML with minimal</text>
<text x="218.30" y="286.22" font-size="8.35" text-anchor="end" fill="#262626" textLength="48.30" lengthAdjust="spacingAndGlyphs">differentiation</text>
<text x="218.30" y="293.62" font-size="8.35" text-anchor="end" fill="#262626" textLength="19.55" lengthAdjust="spacingAndGlyphs">AMoL</text>
<text x="218.30" y="302.52" font-size="8.35" text-anchor="end" fill="#262626" textLength="72.40" lengthAdjust="spacingAndGlyphs">AML with maturation</text>
<text x="218.30" y="313.72" font-size="8.35" text-anchor="end" fill="#262626" textLength="87.30" lengthAdjust="spacingAndGlyphs">AML with KMT2A-MLLT3</text>
<text x="218.30" y="324.22" font-size="8.35" text-anchor="end" fill="#262626" textLength="23.80" lengthAdjust="spacingAndGlyphs">AMML</text>
<text x="218.30" y="334.92" font-size="8.35" text-anchor="end" fill="#262626" textLength="20.60" lengthAdjust="spacingAndGlyphs">tMNs</text>
<text x="206.40" y="226.62" font-size="8.35" text-anchor="end" fill="#262626" textLength="39.90" lengthAdjust="spacingAndGlyphs">AML-NPM1</text>
<text x="207.10" y="222.30" font-size="5.99" text-anchor="start" fill="#262626" textLength="9.40" lengthAdjust="spacingAndGlyphs">mut</text>
<polyline points="294.90,194.10 298.50,194.10 298.50,233.90 294.90,233.90" fill="none" stroke="#555" stroke-width="1"/>
<polyline points="298.50,212.70 316.40,212.70 316.40,231.00" fill="none" stroke="#222" stroke-width="1"/>
<polygon points="314.4,230.6 318.6,230.6 316.4,235.2" fill="#111"/>
<line x1="249.30" y1="250.60" x2="316.40" y2="250.60" stroke="#333333" stroke-width="1.0"/>
<line x1="249.30" y1="248.00" x2="249.30" y2="250.60" stroke="#333333" stroke-width="1.0"/>
<text x="249.30" y="245.27" font-size="8.77" text-anchor="middle" fill="#3a3a3a" textLength="4.05" lengthAdjust="spacingAndGlyphs">0</text>
<line x1="271.67" y1="248.00" x2="271.67" y2="250.60" stroke="#333333" stroke-width="1.0"/>
<text x="271.67" y="245.27" font-size="8.77" text-anchor="middle" fill="#3a3a3a" textLength="8.10" lengthAdjust="spacingAndGlyphs">10</text>
<line x1="294.04" y1="248.00" x2="294.04" y2="250.60" stroke="#333333" stroke-width="1.0"/>
<text x="294.04" y="245.27" font-size="8.77" text-anchor="middle" fill="#3a3a3a" textLength="8.10" lengthAdjust="spacingAndGlyphs">20</text>
<line x1="316.41" y1="248.00" x2="316.41" y2="250.60" stroke="#333333" stroke-width="1.0"/>
<text x="316.41" y="245.27" font-size="8.77" text-anchor="middle" fill="#3a3a3a" textLength="8.10" lengthAdjust="spacingAndGlyphs">30</text>
<line x1="249.30" y1="250.60" x2="249.30" y2="313.50" stroke="#333333" stroke-width="1.0"/>
<rect x="249.30" y="253.60" width="31.32" height="6.00" fill="#c0bfc4" stroke="#2a2a2a" stroke-width="0.5"/>
<line x1="245.50" y1="256.60" x2="249.30" y2="256.60" stroke="#333333" stroke-width="1.0"/>
<rect x="249.30" y="264.10" width="30.20" height="6.00" fill="#c81f31" stroke="#2a2a2a" stroke-width="0.5"/>
<rect x="279.50" y="264.10" width="34.23" height="6.00" fill="#0f5287" stroke="#2a2a2a" stroke-width="0.5"/>
<line x1="245.50" y1="267.10" x2="249.30" y2="267.10" stroke="#333333" stroke-width="1.0"/>
<rect x="249.30" y="274.70" width="55.93" height="6.00" fill="#c0bfc4" stroke="#2a2a2a" stroke-width="0.5"/>
<line x1="245.50" y1="277.70" x2="249.30" y2="277.70" stroke="#333333" stroke-width="1.0"/>
<rect x="249.30" y="284.80" width="30.20" height="6.00" fill="#c81f31" stroke="#2a2a2a" stroke-width="0.5"/>
<rect x="279.50" y="284.80" width="34.23" height="6.00" fill="#0f5287" stroke="#2a2a2a" stroke-width="0.5"/>
<line x1="245.50" y1="287.80" x2="249.30" y2="287.80" stroke="#333333" stroke-width="1.0"/>
<rect x="249.30" y="295.00" width="55.93" height="6.00" fill="#c0bfc4" stroke="#2a2a2a" stroke-width="0.5"/>
<line x1="245.50" y1="298.00" x2="249.30" y2="298.00" stroke="#333333" stroke-width="1.0"/>
<rect x="249.30" y="305.60" width="8.72" height="6.00" fill="#c81f31" stroke="#2a2a2a" stroke-width="0.5"/>
<rect x="258.02" y="305.60" width="34.45" height="6.00" fill="#0f5287" stroke="#2a2a2a" stroke-width="0.5"/>
<line x1="245.50" y1="308.60" x2="249.30" y2="308.60" stroke="#333333" stroke-width="1.0"/>
<rect x="295.00" y="322.50" width="15.50" height="6.70" fill="#c0bfc4" stroke="#2a2a2a" stroke-width="0.5"/>
<rect x="295.00" y="332.00" width="8.20" height="6.00" fill="#c81f31" stroke="#2a2a2a" stroke-width="0.5"/>
<rect x="303.20" y="332.00" width="7.30" height="6.00" fill="#0f5287" stroke="#2a2a2a" stroke-width="0.5"/>
<text x="316.30" y="328.12" font-size="8.35" text-anchor="start" fill="#262626" textLength="85.50" lengthAdjust="spacingAndGlyphs">Patients in whole Cohort</text>
<text x="316.30" y="337.72" font-size="8.35" text-anchor="start" fill="#262626" textLength="62.00" lengthAdjust="spacingAndGlyphs">Patients with P/LP</text>
<rect x="325.50" y="171.30" width="182.00" height="148.70" fill="#fef5e9"/>
<text x="430.60" y="179.00" font-size="7.7" text-anchor="middle" fill="#444" textLength="63.70" lengthAdjust="spacingAndGlyphs">% Frequency of patients</text>
<text x="491.30" y="179.21" font-size="8.3" text-anchor="middle" fill="#141414" font-weight="bold" textLength="20.20" lengthAdjust="spacingAndGlyphs">Tier 1</text>
<line x1="391.40" y1="196.40" x2="458.50" y2="196.40" stroke="#333333" stroke-width="1.0"/>
<line x1="391.40" y1="193.00" x2="391.40" y2="196.40" stroke="#333333" stroke-width="1.0"/>
<text x="391.40" y="191.27" font-size="8.77" text-anchor="middle" fill="#3a3a3a" textLength="4.05" lengthAdjust="spacingAndGlyphs">0</text>
<line x1="414.10" y1="193.00" x2="414.10" y2="196.40" stroke="#333333" stroke-width="1.0"/>
<text x="414.10" y="191.27" font-size="8.77" text-anchor="middle" fill="#3a3a3a" textLength="8.10" lengthAdjust="spacingAndGlyphs">10</text>
<line x1="434.70" y1="193.00" x2="434.70" y2="196.40" stroke="#333333" stroke-width="1.0"/>
<text x="434.70" y="191.27" font-size="8.77" text-anchor="middle" fill="#3a3a3a" textLength="8.10" lengthAdjust="spacingAndGlyphs">20</text>
<line x1="450.40" y1="193.00" x2="450.40" y2="196.40" stroke="#333333" stroke-width="1.0"/>
<text x="450.40" y="191.27" font-size="8.77" text-anchor="middle" fill="#3a3a3a" textLength="8.10" lengthAdjust="spacingAndGlyphs">30</text>
<line x1="458.50" y1="193.00" x2="458.50" y2="196.40" stroke="#333333" stroke-width="1.0"/>
<line x1="391.40" y1="196.40" x2="391.40" y2="292.50" stroke="#333333" stroke-width="1.0"/>
<rect x="391.40" y="199.10" width="36.32" height="8.40" fill="#c81f31" stroke="#2a2a2a" stroke-width="0.5"/>
<rect x="427.72" y="199.10" width="32.01" height="8.40" fill="#0f5287" stroke="#2a2a2a" stroke-width="0.5"/>
<line x1="387.20" y1="203.30" x2="391.40" y2="203.30" stroke="#333333" stroke-width="1.0"/>
<rect x="391.40" y="213.10" width="36.32" height="8.40" fill="#c81f31" stroke="#2a2a2a" stroke-width="0.5"/>
<rect x="427.72" y="213.10" width="26.56" height="8.40" fill="#0f5287" stroke="#2a2a2a" stroke-width="0.5"/>
<line x1="387.20" y1="217.30" x2="391.40" y2="217.30" stroke="#333333" stroke-width="1.0"/>
<rect x="391.40" y="227.30" width="8.63" height="8.40" fill="#c81f31" stroke="#2a2a2a" stroke-width="0.5"/>
<rect x="400.03" y="227.30" width="36.32" height="8.40" fill="#0f5287" stroke="#2a2a2a" stroke-width="0.5"/>
<line x1="387.20" y1="231.50" x2="391.40" y2="231.50" stroke="#333333" stroke-width="1.0"/>
<rect x="391.40" y="241.10" width="8.63" height="8.40" fill="#0f5287" stroke="#2a2a2a" stroke-width="0.5"/>
<line x1="387.20" y1="245.30" x2="391.40" y2="245.30" stroke="#333333" stroke-width="1.0"/>
<rect x="391.40" y="254.50" width="8.63" height="8.40" fill="#c81f31" stroke="#2a2a2a" stroke-width="0.5"/>
<line x1="387.20" y1="258.70" x2="391.40" y2="258.70" stroke="#333333" stroke-width="1.0"/>
<rect x="391.40" y="268.30" width="8.63" height="8.40" fill="#c81f31" stroke="#2a2a2a" stroke-width="0.5"/>
<line x1="387.20" y1="272.50" x2="391.40" y2="272.50" stroke="#333333" stroke-width="1.0"/>
<rect x="391.40" y="281.40" width="8.63" height="8.40" fill="#0f5287" stroke="#2a2a2a" stroke-width="0.5"/>
<line x1="387.20" y1="285.60" x2="391.40" y2="285.60" stroke="#333333" stroke-width="1.0"/>
<text x="385.00" y="206.02" font-size="8.35" text-anchor="end" fill="#262626" textLength="35.20" lengthAdjust="spacingAndGlyphs">AML-NOS</text>
<text x="385.00" y="219.52" font-size="8.35" text-anchor="end" fill="#262626" textLength="35.80" lengthAdjust="spacingAndGlyphs">AML-MRC</text>
<text x="387.30" y="242.32" font-size="8.35" text-anchor="end" fill="#262626" textLength="44.20" lengthAdjust="spacingAndGlyphs">AML without</text>
<text x="386.80" y="251.42" font-size="8.35" text-anchor="end" fill="#262626" textLength="37.30" lengthAdjust="spacingAndGlyphs">maturation</text>
<text x="383.10" y="261.22" font-size="8.35" text-anchor="end" fill="#262626" textLength="14.00" lengthAdjust="spacingAndGlyphs">AEL</text>
<text x="386.80" y="270.42" font-size="8.35" text-anchor="end" fill="#262626" textLength="61.80" lengthAdjust="spacingAndGlyphs">AML with minimal</text>
<text x="386.80" y="279.42" font-size="8.35" text-anchor="end" fill="#262626" textLength="49.00" lengthAdjust="spacingAndGlyphs">differentiation</text>
<text x="382.50" y="288.52" font-size="8.35" text-anchor="end" fill="#262626" textLength="33.10" lengthAdjust="spacingAndGlyphs">AML with</text>
<text x="382.10" y="297.72" font-size="8.35" text-anchor="end" fill="#262626" textLength="37.30" lengthAdjust="spacingAndGlyphs">maturation</text>
<text x="372.90" y="234.22" font-size="8.35" text-anchor="end" fill="#262626" textLength="39.90" lengthAdjust="spacingAndGlyphs">AML-NPM1</text>
<text x="373.60" y="229.90" font-size="5.99" text-anchor="start" fill="#262626" textLength="9.40" lengthAdjust="spacingAndGlyphs">mut</text>
<polyline points="461.00,195.90 464.40,195.90 464.40,236.70 461.00,236.70" fill="none" stroke="#555" stroke-width="1"/>
<polyline points="464.40,214.50 485.80,214.50 485.80,233.00" fill="none" stroke="#222" stroke-width="1"/>
<polygon points="483.5,232.6 488.1,232.6 485.8,237.4" fill="#111"/>
<line x1="435.80" y1="253.50" x2="503.30" y2="253.50" stroke="#333333" stroke-width="1.0"/>
<line x1="435.80" y1="250.60" x2="435.80" y2="253.50" stroke="#333333" stroke-width="1.0"/>
<text x="435.80" y="248.57" font-size="8.77" text-anchor="middle" fill="#3a3a3a" textLength="4.05" lengthAdjust="spacingAndGlyphs">0</text>
<line x1="452.90" y1="250.60" x2="452.90" y2="253.50" stroke="#333333" stroke-width="1.0"/>
<text x="452.90" y="248.57" font-size="8.77" text-anchor="middle" fill="#3a3a3a" textLength="8.10" lengthAdjust="spacingAndGlyphs">10</text>
<line x1="469.40" y1="250.60" x2="469.40" y2="253.50" stroke="#333333" stroke-width="1.0"/>
<text x="469.40" y="248.57" font-size="8.77" text-anchor="middle" fill="#3a3a3a" textLength="8.10" lengthAdjust="spacingAndGlyphs">20</text>
<line x1="486.70" y1="250.60" x2="486.70" y2="253.50" stroke="#333333" stroke-width="1.0"/>
<text x="486.70" y="248.57" font-size="8.77" text-anchor="middle" fill="#3a3a3a" textLength="8.10" lengthAdjust="spacingAndGlyphs">30</text>
<line x1="503.30" y1="250.60" x2="503.30" y2="253.50" stroke="#333333" stroke-width="1.0"/>
<text x="503.30" y="248.57" font-size="8.77" text-anchor="middle" fill="#3a3a3a" textLength="8.10" lengthAdjust="spacingAndGlyphs">40</text>
<line x1="435.80" y1="253.50" x2="435.80" y2="318.00" stroke="#333333" stroke-width="1.0"/>
<rect x="435.80" y="256.30" width="24.20" height="6.80" fill="#c0bfc4" stroke="#2a2a2a" stroke-width="0.5"/>
<line x1="432.20" y1="259.70" x2="435.80" y2="259.70" stroke="#333333" stroke-width="1.0"/>
<rect x="435.80" y="267.00" width="26.70" height="6.80" fill="#c81f31" stroke="#2a2a2a" stroke-width="0.5"/>
<rect x="462.50" y="267.00" width="35.00" height="6.80" fill="#0f5287" stroke="#2a2a2a" stroke-width="0.5"/>
<line x1="432.20" y1="270.40" x2="435.80" y2="270.40" stroke="#333333" stroke-width="1.0"/>
<rect x="435.80" y="277.60" width="42.20" height="6.80" fill="#c0bfc4" stroke="#2a2a2a" stroke-width="0.5"/>
<line x1="432.20" y1="281.00" x2="435.80" y2="281.00" stroke="#333333" stroke-width="1.0"/>
<rect x="435.80" y="288.20" width="26.70" height="6.80" fill="#c81f31" stroke="#2a2a2a" stroke-width="0.5"/>
<rect x="462.50" y="288.20" width="20.80" height="6.80" fill="#0f5287" stroke="#2a2a2a" stroke-width="0.5"/>
<line x1="432.20" y1="291.60" x2="435.80" y2="291.60" stroke="#333333" stroke-width="1.0"/>
<rect x="435.80" y="298.80" width="40.50" height="6.80" fill="#c0bfc4" stroke="#2a2a2a" stroke-width="0.5"/>
<line x1="432.20" y1="302.20" x2="435.80" y2="302.20" stroke="#333333" stroke-width="1.0"/>
<rect x="435.80" y="310.00" width="6.70" height="6.80" fill="#c81f31" stroke="#2a2a2a" stroke-width="0.5"/>
<rect x="442.50" y="310.00" width="27.00" height="6.80" fill="#0f5287" stroke="#2a2a2a" stroke-width="0.5"/>
<line x1="432.20" y1="313.40" x2="435.80" y2="313.40" stroke="#333333" stroke-width="1.0"/>
<line x1="62.50" y1="368.80" x2="130.80" y2="368.80" stroke="#333333" stroke-width="1.0"/>
<line x1="62.50" y1="365.50" x2="62.50" y2="368.80" stroke="#333333" stroke-width="1.0"/>
<text x="62.50" y="364.37" font-size="8.77" text-anchor="middle" fill="#3a3a3a" textLength="4.05" lengthAdjust="spacingAndGlyphs">0</text>
<line x1="76.15" y1="365.50" x2="76.15" y2="368.80" stroke="#333333" stroke-width="1.0"/>
<text x="76.15" y="364.37" font-size="8.77" text-anchor="middle" fill="#3a3a3a" textLength="8.10" lengthAdjust="spacingAndGlyphs">10</text>
<line x1="89.80" y1="365.50" x2="89.80" y2="368.80" stroke="#333333" stroke-width="1.0"/>
<text x="89.80" y="364.37" font-size="8.77" text-anchor="middle" fill="#3a3a3a" textLength="8.10" lengthAdjust="spacingAndGlyphs">20</text>
<line x1="103.45" y1="365.50" x2="103.45" y2="368.80" stroke="#333333" stroke-width="1.0"/>
<text x="103.45" y="364.37" font-size="8.77" text-anchor="middle" fill="#3a3a3a" textLength="8.10" lengthAdjust="spacingAndGlyphs">30</text>
<line x1="117.10" y1="365.50" x2="117.10" y2="368.80" stroke="#333333" stroke-width="1.0"/>
<text x="117.10" y="364.37" font-size="8.77" text-anchor="middle" fill="#3a3a3a" textLength="8.10" lengthAdjust="spacingAndGlyphs">40</text>
<line x1="130.75" y1="365.50" x2="130.75" y2="368.80" stroke="#333333" stroke-width="1.0"/>
<text x="130.75" y="364.37" font-size="8.77" text-anchor="middle" fill="#3a3a3a" textLength="8.10" lengthAdjust="spacingAndGlyphs">50</text>
<line x1="62.50" y1="368.80" x2="62.50" y2="438.00" stroke="#333333" stroke-width="1.0"/>
<rect x="62.50" y="372.40" width="55.80" height="7.20" fill="#c0bfc4" stroke="#2a2a2a" stroke-width="0.5"/>
<rect x="62.50" y="383.00" width="30.50" height="7.20" fill="#c81f31" stroke="#2a2a2a" stroke-width="0.5"/>
<rect x="93.00" y="383.00" width="37.50" height="7.20" fill="#0f5287" stroke="#2a2a2a" stroke-width="0.5"/>
<rect x="62.50" y="394.50" width="35.80" height="7.20" fill="#c0bfc4" stroke="#2a2a2a" stroke-width="0.5"/>
<rect x="62.50" y="405.80" width="23.80" height="7.20" fill="#c81f31" stroke="#2a2a2a" stroke-width="0.5"/>
<rect x="86.30" y="405.80" width="27.50" height="7.20" fill="#0f5287" stroke="#2a2a2a" stroke-width="0.5"/>
<rect x="62.50" y="417.00" width="45.50" height="7.20" fill="#c0bfc4" stroke="#2a2a2a" stroke-width="0.5"/>
<rect x="62.50" y="428.30" width="3.30" height="7.20" fill="#c81f31" stroke="#2a2a2a" stroke-width="0.5"/>
<rect x="65.80" y="428.30" width="10.50" height="7.20" fill="#0f5287" stroke="#2a2a2a" stroke-width="0.5"/>
<line x1="58.50" y1="375.80" x2="62.50" y2="375.80" stroke="#333333" stroke-width="1.0"/>
<line x1="58.50" y1="387.00" x2="62.50" y2="387.00" stroke="#333333" stroke-width="1.0"/>
<line x1="58.50" y1="397.50" x2="62.50" y2="397.50" stroke="#333333" stroke-width="1.0"/>
<line x1="58.50" y1="409.50" x2="62.50" y2="409.50" stroke="#333333" stroke-width="1.0"/>
<line x1="58.50" y1="420.00" x2="62.50" y2="420.00" stroke="#333333" stroke-width="1.0"/>
<line x1="58.50" y1="432.00" x2="62.50" y2="432.00" stroke="#333333" stroke-width="1.0"/>
<text x="59.00" y="384.42" font-size="8.35" text-anchor="end" fill="#262626" textLength="27.80" lengthAdjust="spacingAndGlyphs">Adverse</text>
<text x="58.00" y="406.62" font-size="8.35" text-anchor="end" fill="#262626" textLength="44.10" lengthAdjust="spacingAndGlyphs">Intermediate</text>
<text x="58.70" y="428.22" font-size="8.35" text-anchor="end" fill="#262626" textLength="33.90" lengthAdjust="spacingAndGlyphs">Favorable</text>
<text x="78.00" y="437.22" font-size="8.35" text-anchor="start" fill="#262626" textLength="6.07" lengthAdjust="spacingAndGlyphs">**</text>
<rect x="35.80" y="442.50" width="16.00" height="5.80" fill="#c0bfc4" stroke="#2a2a2a" stroke-width="0.5"/>
<rect x="35.80" y="451.80" width="8.40" height="5.70" fill="#c81f31" stroke="#2a2a2a" stroke-width="0.5"/>
<rect x="44.20" y="451.80" width="7.60" height="5.70" fill="#0f5287" stroke="#2a2a2a" stroke-width="0.5"/>
<text x="55.50" y="448.42" font-size="8.35" text-anchor="start" fill="#262626" textLength="85.50" lengthAdjust="spacingAndGlyphs">Patients in whole Cohort</text>
<text x="55.50" y="457.22" font-size="8.35" text-anchor="start" fill="#262626" textLength="62.00" lengthAdjust="spacingAndGlyphs">Patients with P/LP</text>
<rect x="139.50" y="344.50" width="78.50" height="96.30" fill="#fef5e9"/>
<text x="137.90" y="351.50" font-size="7.7" text-anchor="middle" fill="#444" textLength="63.30" lengthAdjust="spacingAndGlyphs">% Frequency of patients</text>
<text x="203.00" y="351.70" font-size="8.3" text-anchor="middle" fill="#141414" font-weight="bold" textLength="20.20" lengthAdjust="spacingAndGlyphs">Tier 1</text>
<line x1="144.50" y1="368.80" x2="211.80" y2="368.80" stroke="#333333" stroke-width="1.0"/>
<line x1="144.50" y1="365.50" x2="144.50" y2="368.80" stroke="#333333" stroke-width="1.0"/>
<text x="144.50" y="363.67" font-size="8.77" text-anchor="middle" fill="#3a3a3a" textLength="4.05" lengthAdjust="spacingAndGlyphs">0</text>
<line x1="157.95" y1="365.50" x2="157.95" y2="368.80" stroke="#333333" stroke-width="1.0"/>
<text x="157.95" y="363.67" font-size="8.77" text-anchor="middle" fill="#3a3a3a" textLength="8.10" lengthAdjust="spacingAndGlyphs">10</text>
<line x1="171.40" y1="365.50" x2="171.40" y2="368.80" stroke="#333333" stroke-width="1.0"/>
<text x="171.40" y="363.67" font-size="8.77" text-anchor="middle" fill="#3a3a3a" textLength="8.10" lengthAdjust="spacingAndGlyphs">20</text>
<line x1="184.85" y1="365.50" x2="184.85" y2="368.80" stroke="#333333" stroke-width="1.0"/>
<text x="184.85" y="363.67" font-size="8.77" text-anchor="middle" fill="#3a3a3a" textLength="8.10" lengthAdjust="spacingAndGlyphs">30</text>
<line x1="198.30" y1="365.50" x2="198.30" y2="368.80" stroke="#333333" stroke-width="1.0"/>
<text x="198.30" y="363.67" font-size="8.77" text-anchor="middle" fill="#3a3a3a" textLength="8.10" lengthAdjust="spacingAndGlyphs">40</text>
<line x1="211.75" y1="365.50" x2="211.75" y2="368.80" stroke="#333333" stroke-width="1.0"/>
<text x="211.75" y="363.67" font-size="8.77" text-anchor="middle" fill="#3a3a3a" textLength="8.10" lengthAdjust="spacingAndGlyphs">50</text>
<line x1="144.50" y1="368.80" x2="144.50" y2="438.00" stroke="#333333" stroke-width="1.0"/>
<rect x="144.50" y="371.80" width="55.00" height="7.20" fill="#c0bfc4" stroke="#2a2a2a" stroke-width="0.5"/>
<rect x="144.50" y="383.00" width="30.00" height="7.20" fill="#c81f31" stroke="#2a2a2a" stroke-width="0.5"/>
<rect x="174.50" y="383.00" width="37.30" height="7.20" fill="#0f5287" stroke="#2a2a2a" stroke-width="0.5"/>
<rect x="144.50" y="394.50" width="35.00" height="7.20" fill="#c0bfc4" stroke="#2a2a2a" stroke-width="0.5"/>
<rect x="144.50" y="406.20" width="44.80" height="7.20" fill="#c81f31" stroke="#2a2a2a" stroke-width="0.5"/>
<rect x="189.30" y="406.20" width="15.20" height="7.20" fill="#0f5287" stroke="#2a2a2a" stroke-width="0.5"/>
<rect x="144.50" y="417.60" width="44.80" height="7.20" fill="#c0bfc4" stroke="#2a2a2a" stroke-width="0.5"/>
<line x1="140.20" y1="375.50" x2="144.50" y2="375.50" stroke="#333333" stroke-width="1.0"/>
<line x1="140.20" y1="386.30" x2="144.50" y2="386.30" stroke="#333333" stroke-width="1.0"/>
<line x1="140.20" y1="397.50" x2="144.50" y2="397.50" stroke="#333333" stroke-width="1.0"/>
<line x1="140.20" y1="409.50" x2="144.50" y2="409.50" stroke="#333333" stroke-width="1.0"/>
<line x1="140.20" y1="420.50" x2="144.50" y2="420.50" stroke="#333333" stroke-width="1.0"/>
<line x1="140.20" y1="432.50" x2="144.50" y2="432.50" stroke="#333333" stroke-width="1.0"/>
<text transform="translate(147.31,432.50) rotate(90)" x="0" y="0" font-size="7.7" text-anchor="middle" fill="#262626" textLength="4.00" lengthAdjust="spacingAndGlyphs">0</text>
<line x1="349.70" y1="360.00" x2="349.70" y2="450.00" stroke="#333333" stroke-width="1.0"/>
<line x1="346.20" y1="450.00" x2="349.70" y2="450.00" stroke="#333333" stroke-width="1.0"/>
<text x="345.30" y="453.07" font-size="8.77" text-anchor="end" fill="#3a3a3a" textLength="4.05" lengthAdjust="spacingAndGlyphs">0</text>
<line x1="346.20" y1="427.50" x2="349.70" y2="427.50" stroke="#333333" stroke-width="1.0"/>
<text x="345.30" y="430.57" font-size="8.77" text-anchor="end" fill="#3a3a3a" textLength="4.05" lengthAdjust="spacingAndGlyphs">5</text>
<line x1="346.20" y1="405.00" x2="349.70" y2="405.00" stroke="#333333" stroke-width="1.0"/>
<text x="345.30" y="408.07" font-size="8.77" text-anchor="end" fill="#3a3a3a" textLength="8.10" lengthAdjust="spacingAndGlyphs">10</text>
<line x1="346.20" y1="382.50" x2="349.70" y2="382.50" stroke="#333333" stroke-width="1.0"/>
<text x="345.30" y="385.57" font-size="8.77" text-anchor="end" fill="#3a3a3a" textLength="8.10" lengthAdjust="spacingAndGlyphs">15</text>
<line x1="346.20" y1="360.00" x2="349.70" y2="360.00" stroke="#333333" stroke-width="1.0"/>
<text x="345.30" y="363.07" font-size="8.77" text-anchor="end" fill="#3a3a3a" textLength="8.10" lengthAdjust="spacingAndGlyphs">20</text>
<line x1="349.70" y1="450.00" x2="397.00" y2="450.00" stroke="#333333" stroke-width="1.0"/>
<rect x="353.30" y="384.75" width="13.70" height="27.00" fill="#0f5287" stroke="#2a2a2a" stroke-width="0.5"/>
<rect x="353.30" y="411.75" width="13.70" height="38.25" fill="#c81f31" stroke="#2a2a2a" stroke-width="0.5"/>
<line x1="360.15" y1="450.00" x2="360.15" y2="453.00" stroke="#333333" stroke-width="1.0"/>
<rect x="379.30" y="394.65" width="13.70" height="50.40" fill="#0f5287" stroke="#2a2a2a" stroke-width="0.5"/>
<rect x="379.30" y="445.05" width="13.70" height="4.95" fill="#c81f31" stroke="#2a2a2a" stroke-width="0.5"/>
<line x1="386.15" y1="450.00" x2="386.15" y2="453.00" stroke="#333333" stroke-width="1.0"/>
<text x="360.20" y="460.52" font-size="8.35" text-anchor="middle" fill="#262626" textLength="16.91" lengthAdjust="spacingAndGlyphs">Male</text>
<text x="386.20" y="460.52" font-size="8.35" text-anchor="middle" fill="#262626" textLength="26.01" lengthAdjust="spacingAndGlyphs">Female</text>
<text transform="translate(321.50,404.50) rotate(-90)" x="0" y="0" font-size="7.7" text-anchor="middle" fill="#444" textLength="63.70" lengthAdjust="spacingAndGlyphs">% Frequency of patients</text>
<text transform="translate(331.50,404.80) rotate(-90)" x="0" y="0" font-size="7.7" text-anchor="middle" fill="#444" textLength="49.50" lengthAdjust="spacingAndGlyphs">with P/LP variants</text>
<rect x="411.20" y="360.10" width="50.00" height="89.90" fill="#fef5e9"/>
<line x1="410.40" y1="360.10" x2="410.40" y2="450.00" stroke="#333333" stroke-width="1.0"/>
<line x1="406.60" y1="450.00" x2="410.40" y2="450.00" stroke="#333333" stroke-width="1.0"/>
<text x="405.40" y="453.07" font-size="8.77" text-anchor="end" fill="#3a3a3a" textLength="4.05" lengthAdjust="spacingAndGlyphs">0</text>
<line x1="406.60" y1="432.02" x2="410.40" y2="432.02" stroke="#333333" stroke-width="1.0"/>
<text x="405.40" y="435.09" font-size="8.77" text-anchor="end" fill="#3a3a3a" textLength="4.05" lengthAdjust="spacingAndGlyphs">2</text>
<line x1="406.60" y1="414.04" x2="410.40" y2="414.04" stroke="#333333" stroke-width="1.0"/>
<text x="405.40" y="417.11" font-size="8.77" text-anchor="end" fill="#3a3a3a" textLength="4.05" lengthAdjust="spacingAndGlyphs">4</text>
<line x1="406.60" y1="396.06" x2="410.40" y2="396.06" stroke="#333333" stroke-width="1.0"/>
<text x="405.40" y="399.13" font-size="8.77" text-anchor="end" fill="#3a3a3a" textLength="4.05" lengthAdjust="spacingAndGlyphs">6</text>
<line x1="406.60" y1="378.08" x2="410.40" y2="378.08" stroke="#333333" stroke-width="1.0"/>
<text x="405.40" y="381.15" font-size="8.77" text-anchor="end" fill="#3a3a3a" textLength="4.05" lengthAdjust="spacingAndGlyphs">8</text>
<line x1="406.60" y1="360.10" x2="410.40" y2="360.10" stroke="#333333" stroke-width="1.0"/>
<text x="405.40" y="363.17" font-size="8.77" text-anchor="end" fill="#3a3a3a" textLength="8.10" lengthAdjust="spacingAndGlyphs">10</text>
<line x1="410.40" y1="450.00" x2="460.00" y2="450.00" stroke="#333333" stroke-width="1.0"/>
<text x="432.20" y="364.40" font-size="8.3" text-anchor="middle" fill="#141414" font-weight="bold" textLength="20.20" lengthAdjust="spacingAndGlyphs">Tier 1</text>
<rect x="416.40" y="373.58" width="13.70" height="32.36" fill="#0f5287" stroke="#2a2a2a" stroke-width="0.5"/>
<rect x="416.40" y="405.95" width="13.70" height="44.05" fill="#c81f31" stroke="#2a2a2a" stroke-width="0.5"/>
<rect x="440.50" y="418.09" width="13.70" height="31.91" fill="#0f5287" stroke="#2a2a2a" stroke-width="0.5"/>
<line x1="423.20" y1="450.00" x2="423.20" y2="453.00" stroke="#333333" stroke-width="1.0"/>
<line x1="447.30" y1="450.00" x2="447.30" y2="453.00" stroke="#333333" stroke-width="1.0"/>
<text x="423.20" y="460.52" font-size="8.35" text-anchor="middle" fill="#262626" textLength="16.91" lengthAdjust="spacingAndGlyphs">Male</text>
<text x="447.20" y="460.52" font-size="8.35" text-anchor="middle" fill="#262626" textLength="26.01" lengthAdjust="spacingAndGlyphs">Female</text>
<line x1="45.70" y1="479.60" x2="45.70" y2="588.50" stroke="#333333" stroke-width="1.0"/>
<line x1="41.80" y1="588.50" x2="45.70" y2="588.50" stroke="#333333" stroke-width="1.0"/>
<text x="40.20" y="591.57" font-size="8.77" text-anchor="end" fill="#3a3a3a" textLength="4.05" lengthAdjust="spacingAndGlyphs">0</text>
<line x1="41.80" y1="552.20" x2="45.70" y2="552.20" stroke="#333333" stroke-width="1.0"/>
<text x="40.20" y="555.27" font-size="8.77" text-anchor="end" fill="#3a3a3a" textLength="4.05" lengthAdjust="spacingAndGlyphs">5</text>
<line x1="41.80" y1="515.90" x2="45.70" y2="515.90" stroke="#333333" stroke-width="1.0"/>
<text x="40.20" y="518.97" font-size="8.77" text-anchor="end" fill="#3a3a3a" textLength="8.10" lengthAdjust="spacingAndGlyphs">10</text>
<line x1="41.80" y1="479.60" x2="45.70" y2="479.60" stroke="#333333" stroke-width="1.0"/>
<text x="40.20" y="482.67" font-size="8.77" text-anchor="end" fill="#3a3a3a" textLength="8.10" lengthAdjust="spacingAndGlyphs">15</text>
<line x1="45.70" y1="588.50" x2="97.00" y2="588.50" stroke="#333333" stroke-width="1.0"/>
<rect x="48.90" y="517.35" width="10.80" height="42.83" fill="#0f5287" stroke="#2a2a2a" stroke-width="0.5"/>
<rect x="48.90" y="560.19" width="10.80" height="28.31" fill="#c81f31" stroke="#2a2a2a" stroke-width="0.5"/>
<line x1="54.30" y1="588.50" x2="54.30" y2="591.50" stroke="#333333" stroke-width="1.0"/>
<text transform="translate(57.10,597.20) rotate(-42)" font-size="7.6" text-anchor="end" fill="#262626">&lt;40</text>
<rect x="65.90" y="488.31" width="10.70" height="74.05" fill="#0f5287" stroke="#2a2a2a" stroke-width="0.5"/>
<rect x="65.90" y="562.36" width="10.70" height="26.14" fill="#c81f31" stroke="#2a2a2a" stroke-width="0.5"/>
<line x1="71.25" y1="588.50" x2="71.25" y2="591.50" stroke="#333333" stroke-width="1.0"/>
<text transform="translate(74.05,597.20) rotate(-42)" font-size="7.6" text-anchor="end" fill="#262626">40–59</text>
<rect x="82.80" y="487.59" width="10.70" height="53.72" fill="#0f5287" stroke="#2a2a2a" stroke-width="0.5"/>
<rect x="82.80" y="541.31" width="10.70" height="47.19" fill="#c81f31" stroke="#2a2a2a" stroke-width="0.5"/>
<line x1="88.15" y1="588.50" x2="88.15" y2="591.50" stroke="#333333" stroke-width="1.0"/>
<text transform="translate(90.95,597.20) rotate(-42)" font-size="7.6" text-anchor="end" fill="#262626">≥60</text>
<text transform="translate(21.50,534.00) rotate(-90)" x="0" y="0" font-size="7.7" text-anchor="middle" fill="#444" textLength="64.50" lengthAdjust="spacingAndGlyphs">% Frequency of patients</text>
<text transform="translate(30.89,534.10) rotate(-90)" x="0" y="0" font-size="7.7" text-anchor="middle" fill="#444" textLength="49.80" lengthAdjust="spacingAndGlyphs">with P/LP variants</text>
<text x="97.20" y="620.00" font-size="7.7" text-anchor="middle" fill="#444" textLength="44.00" lengthAdjust="spacingAndGlyphs">Age at diagnosis</text>
<rect x="110.40" y="478.80" width="53.00" height="107.60" fill="#fef5e9"/>
<line x1="109.60" y1="478.40" x2="109.60" y2="586.40" stroke="#333333" stroke-width="1.0"/>
<line x1="105.80" y1="586.40" x2="109.60" y2="586.40" stroke="#333333" stroke-width="1.0"/>
<text x="104.20" y="589.47" font-size="8.77" text-anchor="end" fill="#3a3a3a" textLength="4.05" lengthAdjust="spacingAndGlyphs">0</text>
<line x1="105.80" y1="532.40" x2="109.60" y2="532.40" stroke="#333333" stroke-width="1.0"/>
<text x="104.20" y="535.47" font-size="8.77" text-anchor="end" fill="#3a3a3a" textLength="4.05" lengthAdjust="spacingAndGlyphs">5</text>
<line x1="105.80" y1="478.40" x2="109.60" y2="478.40" stroke="#333333" stroke-width="1.0"/>
<text x="104.20" y="481.47" font-size="8.77" text-anchor="end" fill="#3a3a3a" textLength="8.10" lengthAdjust="spacingAndGlyphs">10</text>
<line x1="109.60" y1="586.40" x2="160.00" y2="586.40" stroke="#333333" stroke-width="1.0"/>
<text x="133.80" y="485.80" font-size="8.3" text-anchor="middle" fill="#141414" font-weight="bold" textLength="20.20" lengthAdjust="spacingAndGlyphs">Tier 1</text>
<rect x="112.80" y="544.28" width="11.60" height="21.60" fill="#0f5287" stroke="#2a2a2a" stroke-width="0.5"/>
<rect x="112.80" y="565.88" width="11.60" height="20.52" fill="#c81f31" stroke="#2a2a2a" stroke-width="0.5"/>
<line x1="118.60" y1="586.40" x2="118.60" y2="589.40" stroke="#333333" stroke-width="1.0"/>
<text transform="translate(121.40,595.10) rotate(-42)" font-size="7.6" text-anchor="end" fill="#262626">&lt;40</text>
<rect x="129.80" y="517.28" width="11.50" height="50.22" fill="#0f5287" stroke="#2a2a2a" stroke-width="0.5"/>
<rect x="129.80" y="567.50" width="11.50" height="18.90" fill="#c81f31" stroke="#2a2a2a" stroke-width="0.5"/>
<line x1="135.55" y1="586.40" x2="135.55" y2="589.40" stroke="#333333" stroke-width="1.0"/>
<text transform="translate(138.35,595.10) rotate(-42)" font-size="7.6" text-anchor="end" fill="#262626">40–59</text>
<rect x="146.70" y="510.80" width="11.30" height="38.34" fill="#0f5287" stroke="#2a2a2a" stroke-width="0.5"/>
<rect x="146.70" y="549.14" width="11.30" height="37.26" fill="#c81f31" stroke="#2a2a2a" stroke-width="0.5"/>
<line x1="152.35" y1="586.40" x2="152.35" y2="589.40" stroke="#333333" stroke-width="1.0"/>
<text transform="translate(155.15,595.10) rotate(-42)" font-size="7.6" text-anchor="end" fill="#262626">≥60</text>
<rect x="192.00" y="472.50" width="33.75" height="147.00" fill="#cee4dd"/>
<rect x="225.75" y="472.50" width="110.00" height="147.00" fill="#e8e7f3"/>
<rect x="335.75" y="472.50" width="175.50" height="147.00" fill="#d5eefa"/>
<line x1="192.00" y1="472.49" x2="192.00" y2="576.25" stroke="#333333" stroke-width="1.0"/>
<line x1="188.30" y1="576.25" x2="192.00" y2="576.25" stroke="#333333" stroke-width="1.0"/>
<text x="186.60" y="579.32" font-size="8.77" text-anchor="end" fill="#3a3a3a" textLength="4.05" lengthAdjust="spacingAndGlyphs">0</text>
<line x1="188.30" y1="550.31" x2="192.00" y2="550.31" stroke="#333333" stroke-width="1.0"/>
<text x="186.60" y="553.38" font-size="8.77" text-anchor="end" fill="#3a3a3a" textLength="4.05" lengthAdjust="spacingAndGlyphs">2</text>
<line x1="188.30" y1="524.37" x2="192.00" y2="524.37" stroke="#333333" stroke-width="1.0"/>
<text x="186.60" y="527.44" font-size="8.77" text-anchor="end" fill="#3a3a3a" textLength="4.05" lengthAdjust="spacingAndGlyphs">4</text>
<line x1="188.30" y1="498.43" x2="192.00" y2="498.43" stroke="#333333" stroke-width="1.0"/>
<text x="186.60" y="501.50" font-size="8.77" text-anchor="end" fill="#3a3a3a" textLength="4.05" lengthAdjust="spacingAndGlyphs">6</text>
<line x1="188.30" y1="472.49" x2="192.00" y2="472.49" stroke="#333333" stroke-width="1.0"/>
<text x="186.60" y="475.56" font-size="8.77" text-anchor="end" fill="#3a3a3a" textLength="4.05" lengthAdjust="spacingAndGlyphs">8</text>
<line x1="192.00" y1="576.25" x2="511.75" y2="576.25" stroke="#333333" stroke-width="1.0"/>
<rect x="194.25" y="537.34" width="5.30" height="25.94" fill="#0f5287" stroke="#2a2a2a" stroke-width="0.5"/>
<rect x="194.25" y="563.28" width="5.30" height="12.97" fill="#c81f31" stroke="#2a2a2a" stroke-width="0.5"/>
<line x1="196.90" y1="576.25" x2="196.90" y2="578.80" stroke="#333333" stroke-width="1.0"/>
<g transform="translate(199.74,580.30) rotate(-90)"><text x="0" y="0" font-size="8.1" text-anchor="end" fill="#2a2a2a" textLength="25.18" lengthAdjust="spacingAndGlyphs">CHEK2</text></g>
<rect x="202.67" y="563.28" width="5.30" height="12.97" fill="#c81f31" stroke="#2a2a2a" stroke-width="0.5"/>
<line x1="205.32" y1="576.25" x2="205.32" y2="578.80" stroke="#333333" stroke-width="1.0"/>
<g transform="translate(208.16,580.30) rotate(-90)"><text x="0" y="0" font-size="8.1" text-anchor="end" fill="#2a2a2a" textLength="23.63" lengthAdjust="spacingAndGlyphs">GATA2</text></g>
<rect x="211.09" y="563.28" width="5.30" height="12.97" fill="#c81f31" stroke="#2a2a2a" stroke-width="0.5"/>
<line x1="213.74" y1="576.25" x2="213.74" y2="578.80" stroke="#333333" stroke-width="1.0"/>
<g transform="translate(216.58,580.30) rotate(-90)"><text x="0" y="0" font-size="8.1" text-anchor="end" fill="#2a2a2a" textLength="33.99" lengthAdjust="spacingAndGlyphs">ERCC6L2</text></g>
<rect x="219.51" y="563.28" width="5.30" height="12.97" fill="#0f5287" stroke="#2a2a2a" stroke-width="0.5"/>
<line x1="222.16" y1="576.25" x2="222.16" y2="578.80" stroke="#333333" stroke-width="1.0"/>
<g transform="translate(225.00,580.30) rotate(-90)"><text x="0" y="0" font-size="8.1" text-anchor="end" fill="#2a2a2a" textLength="21.82" lengthAdjust="spacingAndGlyphs">BRIP1</text></g>
<rect x="227.93" y="550.31" width="5.30" height="25.94" fill="#c81f31" stroke="#2a2a2a" stroke-width="0.5"/>
<line x1="230.58" y1="576.25" x2="230.58" y2="578.80" stroke="#333333" stroke-width="1.0"/>
<g transform="translate(233.42,580.30) rotate(-90)"><text x="0" y="0" font-size="8.1" text-anchor="end" fill="#2a2a2a" textLength="26.43" lengthAdjust="spacingAndGlyphs">FANCM</text></g>
<rect x="236.35" y="550.31" width="5.30" height="25.94" fill="#0f5287" stroke="#2a2a2a" stroke-width="0.5"/>
<line x1="239.00" y1="576.25" x2="239.00" y2="578.80" stroke="#333333" stroke-width="1.0"/>
<g transform="translate(241.84,580.30) rotate(-90)"><text x="0" y="0" font-size="8.1" text-anchor="end" fill="#2a2a2a" textLength="25.59" lengthAdjust="spacingAndGlyphs">DNAH9</text></g>
<rect x="244.77" y="563.28" width="5.30" height="12.97" fill="#0f5287" stroke="#2a2a2a" stroke-width="0.5"/>
<line x1="247.42" y1="576.25" x2="247.42" y2="578.80" stroke="#333333" stroke-width="1.0"/>
<g transform="translate(250.25,580.30) rotate(-90)"><text x="0" y="0" font-size="8.1" text-anchor="end" fill="#2a2a2a" textLength="24.34" lengthAdjust="spacingAndGlyphs">DDX41</text></g>
<rect x="253.19" y="563.28" width="5.30" height="12.97" fill="#0f5287" stroke="#2a2a2a" stroke-width="0.5"/>
<line x1="255.84" y1="576.25" x2="255.84" y2="578.80" stroke="#333333" stroke-width="1.0"/>
<g transform="translate(258.68,580.30) rotate(-90)"><text x="0" y="0" font-size="8.1" text-anchor="end" fill="#2a2a2a" textLength="25.17" lengthAdjust="spacingAndGlyphs">FANCA</text></g>
<rect x="261.61" y="563.28" width="5.30" height="12.97" fill="#0f5287" stroke="#2a2a2a" stroke-width="0.5"/>
<line x1="264.26" y1="576.25" x2="264.26" y2="578.80" stroke="#333333" stroke-width="1.0"/>
<g transform="translate(267.09,580.30) rotate(-90)"><text x="0" y="0" font-size="8.1" text-anchor="end" fill="#2a2a2a" textLength="22.23" lengthAdjust="spacingAndGlyphs">FANCI</text></g>
<rect x="270.03" y="563.28" width="5.30" height="12.97" fill="#0f5287" stroke="#2a2a2a" stroke-width="0.5"/>
<line x1="272.68" y1="576.25" x2="272.68" y2="578.80" stroke="#333333" stroke-width="1.0"/>
<g transform="translate(275.51,580.30) rotate(-90)"><text x="0" y="0" font-size="8.1" text-anchor="end" fill="#2a2a2a" textLength="19.72" lengthAdjust="spacingAndGlyphs">POT1</text></g>
<rect x="278.45" y="563.28" width="5.30" height="12.97" fill="#0f5287" stroke="#2a2a2a" stroke-width="0.5"/>
<line x1="281.10" y1="576.25" x2="281.10" y2="578.80" stroke="#333333" stroke-width="1.0"/>
<g transform="translate(283.94,580.30) rotate(-90)"><text x="0" y="0" font-size="8.1" text-anchor="end" fill="#2a2a2a" textLength="19.72" lengthAdjust="spacingAndGlyphs">USB1</text></g>
<rect x="286.87" y="563.28" width="5.30" height="12.97" fill="#0f5287" stroke="#2a2a2a" stroke-width="0.5"/>
<line x1="289.52" y1="576.25" x2="289.52" y2="578.80" stroke="#333333" stroke-width="1.0"/>
<g transform="translate(292.35,580.30) rotate(-90)"><text x="0" y="0" font-size="8.1" text-anchor="end" fill="#2a2a2a" textLength="27.97" lengthAdjust="spacingAndGlyphs">PTPN11</text></g>
<rect x="295.29" y="563.28" width="5.30" height="12.97" fill="#c81f31" stroke="#2a2a2a" stroke-width="0.5"/>
<line x1="297.94" y1="576.25" x2="297.94" y2="578.80" stroke="#333333" stroke-width="1.0"/>
<g transform="translate(300.77,580.30) rotate(-90)"><text x="0" y="0" font-size="8.1" text-anchor="end" fill="#2a2a2a" textLength="15.52" lengthAdjust="spacingAndGlyphs">MPL</text></g>
<rect x="303.71" y="563.28" width="5.30" height="12.97" fill="#c81f31" stroke="#2a2a2a" stroke-width="0.5"/>
<line x1="306.36" y1="576.25" x2="306.36" y2="578.80" stroke="#333333" stroke-width="1.0"/>
<g transform="translate(309.19,580.30) rotate(-90)"><text x="0" y="0" font-size="8.1" text-anchor="end" fill="#2a2a2a" textLength="31.46" lengthAdjust="spacingAndGlyphs">SAMHD1</text></g>
<rect x="312.13" y="563.28" width="5.30" height="12.97" fill="#0f5287" stroke="#2a2a2a" stroke-width="0.5"/>
<line x1="314.78" y1="576.25" x2="314.78" y2="578.80" stroke="#333333" stroke-width="1.0"/>
<g transform="translate(317.61,580.30) rotate(-90)"><text x="0" y="0" font-size="8.1" text-anchor="end" fill="#2a2a2a" textLength="24.33" lengthAdjust="spacingAndGlyphs">PRPF8</text></g>
<rect x="320.55" y="563.28" width="5.30" height="12.97" fill="#0f5287" stroke="#2a2a2a" stroke-width="0.5"/>
<line x1="323.20" y1="576.25" x2="323.20" y2="578.80" stroke="#333333" stroke-width="1.0"/>
<g transform="translate(326.04,580.30) rotate(-90)"><text x="0" y="0" font-size="8.1" text-anchor="end" fill="#2a2a2a" textLength="23.50" lengthAdjust="spacingAndGlyphs">SUZ12</text></g>
<rect x="328.97" y="563.28" width="5.30" height="12.97" fill="#0f5287" stroke="#2a2a2a" stroke-width="0.5"/>
<line x1="331.62" y1="576.25" x2="331.62" y2="578.80" stroke="#333333" stroke-width="1.0"/>
<g transform="translate(334.45,580.30) rotate(-90)"><text x="0" y="0" font-size="8.1" text-anchor="end" fill="#2a2a2a" textLength="16.78" lengthAdjust="spacingAndGlyphs">DIS3</text></g>
<rect x="337.39" y="498.43" width="5.30" height="25.94" fill="#0f5287" stroke="#2a2a2a" stroke-width="0.5"/>
<rect x="337.39" y="524.37" width="5.30" height="51.88" fill="#c81f31" stroke="#2a2a2a" stroke-width="0.5"/>
<line x1="340.04" y1="576.25" x2="340.04" y2="578.80" stroke="#333333" stroke-width="1.0"/>
<g transform="translate(342.87,580.30) rotate(-90)"><text x="0" y="0" font-size="8.1" text-anchor="end" fill="#2a2a2a" textLength="24.34" lengthAdjust="spacingAndGlyphs">DDX41</text></g>
<rect x="345.81" y="511.40" width="5.30" height="38.91" fill="#0f5287" stroke="#2a2a2a" stroke-width="0.5"/>
<rect x="345.81" y="550.31" width="5.30" height="25.94" fill="#c81f31" stroke="#2a2a2a" stroke-width="0.5"/>
<line x1="348.46" y1="576.25" x2="348.46" y2="578.80" stroke="#333333" stroke-width="1.0"/>
<g transform="translate(351.30,580.30) rotate(-90)"><text x="0" y="0" font-size="8.1" text-anchor="end" fill="#2a2a2a" textLength="25.18" lengthAdjust="spacingAndGlyphs">CHEK2</text></g>
<rect x="354.23" y="537.34" width="5.30" height="25.94" fill="#0f5287" stroke="#2a2a2a" stroke-width="0.5"/>
<rect x="354.23" y="563.28" width="5.30" height="12.97" fill="#c81f31" stroke="#2a2a2a" stroke-width="0.5"/>
<line x1="356.88" y1="576.25" x2="356.88" y2="578.80" stroke="#333333" stroke-width="1.0"/>
<g transform="translate(359.71,580.30) rotate(-90)"><text x="0" y="0" font-size="8.1" text-anchor="end" fill="#2a2a2a" textLength="25.59" lengthAdjust="spacingAndGlyphs">DNAH5</text></g>
<rect x="362.65" y="550.31" width="5.30" height="12.97" fill="#0f5287" stroke="#2a2a2a" stroke-width="0.5"/>
<rect x="362.65" y="563.28" width="5.30" height="12.97" fill="#c81f31" stroke="#2a2a2a" stroke-width="0.5"/>
<line x1="365.30" y1="576.25" x2="365.30" y2="578.80" stroke="#333333" stroke-width="1.0"/>
<g transform="translate(368.13,580.30) rotate(-90)"><text x="0" y="0" font-size="8.1" text-anchor="end" fill="#2a2a2a" textLength="26.43" lengthAdjust="spacingAndGlyphs">FANCM</text></g>
<rect x="371.07" y="550.31" width="5.30" height="25.94" fill="#c81f31" stroke="#2a2a2a" stroke-width="0.5"/>
<line x1="373.72" y1="576.25" x2="373.72" y2="578.80" stroke="#333333" stroke-width="1.0"/>
<g transform="translate(376.56,580.30) rotate(-90)"><text x="0" y="0" font-size="8.1" text-anchor="end" fill="#2a2a2a" textLength="15.38" lengthAdjust="spacingAndGlyphs">ATM</text></g>
<rect x="379.49" y="563.28" width="5.30" height="12.97" fill="#c81f31" stroke="#2a2a2a" stroke-width="0.5"/>
<line x1="382.14" y1="576.25" x2="382.14" y2="578.80" stroke="#333333" stroke-width="1.0"/>
<g transform="translate(384.97,580.30) rotate(-90)"><text x="0" y="0" font-size="8.1" text-anchor="end" fill="#2a2a2a" textLength="20.56" lengthAdjust="spacingAndGlyphs">PMS2</text></g>
<rect x="387.91" y="563.28" width="5.30" height="12.97" fill="#0f5287" stroke="#2a2a2a" stroke-width="0.5"/>
<line x1="390.56" y1="576.25" x2="390.56" y2="578.80" stroke="#333333" stroke-width="1.0"/>
<g transform="translate(393.39,580.30) rotate(-90)"><text x="0" y="0" font-size="8.1" text-anchor="end" fill="#2a2a2a" textLength="21.82" lengthAdjust="spacingAndGlyphs">BRIP1</text></g>
<rect x="396.33" y="563.28" width="5.30" height="12.97" fill="#0f5287" stroke="#2a2a2a" stroke-width="0.5"/>
<line x1="398.98" y1="576.25" x2="398.98" y2="578.80" stroke="#333333" stroke-width="1.0"/>
<g transform="translate(401.81,580.30) rotate(-90)"><text x="0" y="0" font-size="8.1" text-anchor="end" fill="#2a2a2a" textLength="25.59" lengthAdjust="spacingAndGlyphs">FANCC</text></g>
<rect x="404.75" y="563.28" width="5.30" height="12.97" fill="#c81f31" stroke="#2a2a2a" stroke-width="0.5"/>
<line x1="407.40" y1="576.25" x2="407.40" y2="578.80" stroke="#333333" stroke-width="1.0"/>
<g transform="translate(410.23,580.30) rotate(-90)"><text x="0" y="0" font-size="8.1" text-anchor="end" fill="#2a2a2a" textLength="26.01" lengthAdjust="spacingAndGlyphs">FANCG</text></g>
<rect x="413.17" y="563.28" width="5.30" height="12.97" fill="#0f5287" stroke="#2a2a2a" stroke-width="0.5"/>
<line x1="415.82" y1="576.25" x2="415.82" y2="578.80" stroke="#333333" stroke-width="1.0"/>
<g transform="translate(418.65,580.30) rotate(-90)"><text x="0" y="0" font-size="8.1" text-anchor="end" fill="#2a2a2a" textLength="18.05" lengthAdjust="spacingAndGlyphs">JAK2</text></g>
<rect x="421.59" y="563.28" width="5.30" height="12.97" fill="#0f5287" stroke="#2a2a2a" stroke-width="0.5"/>
<line x1="424.24" y1="576.25" x2="424.24" y2="578.80" stroke="#333333" stroke-width="1.0"/>
<g transform="translate(427.07,580.30) rotate(-90)"><text x="0" y="0" font-size="8.1" text-anchor="end" fill="#2a2a2a" textLength="15.94" lengthAdjust="spacingAndGlyphs">NBN</text></g>
<rect x="430.01" y="563.28" width="5.30" height="12.97" fill="#0f5287" stroke="#2a2a2a" stroke-width="0.5"/>
<line x1="432.66" y1="576.25" x2="432.66" y2="578.80" stroke="#333333" stroke-width="1.0"/>
<g transform="translate(435.49,580.30) rotate(-90)"><text x="0" y="0" font-size="8.1" text-anchor="end" fill="#2a2a2a" textLength="19.57" lengthAdjust="spacingAndGlyphs">TERT</text></g>
<rect x="438.43" y="563.28" width="5.30" height="12.97" fill="#0f5287" stroke="#2a2a2a" stroke-width="0.5"/>
<line x1="441.08" y1="576.25" x2="441.08" y2="578.80" stroke="#333333" stroke-width="1.0"/>
<g transform="translate(443.92,580.30) rotate(-90)"><text x="0" y="0" font-size="8.1" text-anchor="end" fill="#2a2a2a" textLength="14.26" lengthAdjust="spacingAndGlyphs">NF1</text></g>
<rect x="446.85" y="563.28" width="5.30" height="12.97" fill="#c81f31" stroke="#2a2a2a" stroke-width="0.5"/>
<line x1="449.50" y1="576.25" x2="449.50" y2="578.80" stroke="#333333" stroke-width="1.0"/>
<g transform="translate(452.33,580.30) rotate(-90)"><text x="0" y="0" font-size="8.1" text-anchor="end" fill="#2a2a2a" textLength="33.57" lengthAdjust="spacingAndGlyphs">DNAJC21</text></g>
<rect x="455.27" y="563.28" width="5.30" height="12.97" fill="#c81f31" stroke="#2a2a2a" stroke-width="0.5"/>
<line x1="457.92" y1="576.25" x2="457.92" y2="578.80" stroke="#333333" stroke-width="1.0"/>
<g transform="translate(460.75,580.30) rotate(-90)"><text x="0" y="0" font-size="8.1" text-anchor="end" fill="#2a2a2a" textLength="30.21" lengthAdjust="spacingAndGlyphs">UNC13D</text></g>
<rect x="463.69" y="563.28" width="5.30" height="12.97" fill="#0f5287" stroke="#2a2a2a" stroke-width="0.5"/>
<line x1="466.34" y1="576.25" x2="466.34" y2="578.80" stroke="#333333" stroke-width="1.0"/>
<g transform="translate(469.18,580.30) rotate(-90)"><text x="0" y="0" font-size="8.1" text-anchor="end" fill="#2a2a2a" textLength="26.01" lengthAdjust="spacingAndGlyphs">SAMD9</text></g>
<rect x="472.11" y="563.28" width="5.30" height="12.97" fill="#c81f31" stroke="#2a2a2a" stroke-width="0.5"/>
<line x1="474.76" y1="576.25" x2="474.76" y2="578.80" stroke="#333333" stroke-width="1.0"/>
<g transform="translate(477.59,580.30) rotate(-90)"><text x="0" y="0" font-size="8.1" text-anchor="end" fill="#2a2a2a" textLength="27.27" lengthAdjust="spacingAndGlyphs">ARID1B</text></g>
<rect x="480.53" y="563.28" width="5.30" height="12.97" fill="#0f5287" stroke="#2a2a2a" stroke-width="0.5"/>
<line x1="483.18" y1="576.25" x2="483.18" y2="578.80" stroke="#333333" stroke-width="1.0"/>
<g transform="translate(486.01,580.30) rotate(-90)"><text x="0" y="0" font-size="8.1" text-anchor="end" fill="#2a2a2a" textLength="31.04" lengthAdjust="spacingAndGlyphs">DNMT3A</text></g>
<rect x="488.95" y="563.28" width="5.30" height="12.97" fill="#0f5287" stroke="#2a2a2a" stroke-width="0.5"/>
<line x1="491.60" y1="576.25" x2="491.60" y2="578.80" stroke="#333333" stroke-width="1.0"/>
<g transform="translate(494.44,580.30) rotate(-90)"><text x="0" y="0" font-size="8.1" text-anchor="end" fill="#2a2a2a" textLength="20.97" lengthAdjust="spacingAndGlyphs">EGFR</text></g>
<rect x="497.37" y="563.28" width="5.30" height="12.97" fill="#0f5287" stroke="#2a2a2a" stroke-width="0.5"/>
<line x1="500.02" y1="576.25" x2="500.02" y2="578.80" stroke="#333333" stroke-width="1.0"/>
<g transform="translate(502.85,580.30) rotate(-90)"><text x="0" y="0" font-size="8.1" text-anchor="end" fill="#2a2a2a" textLength="20.57" lengthAdjust="spacingAndGlyphs">IGLL5</text></g>
<rect x="505.79" y="563.28" width="5.30" height="12.97" fill="#0f5287" stroke="#2a2a2a" stroke-width="0.5"/>
<line x1="508.44" y1="576.25" x2="508.44" y2="578.80" stroke="#333333" stroke-width="1.0"/>
<g transform="translate(511.28,580.30) rotate(-90)"><text x="0" y="0" font-size="8.1" text-anchor="end" fill="#2a2a2a" textLength="36.50" lengthAdjust="spacingAndGlyphs">SMARCA2</text></g>
<text x="208.80" y="480.23" font-size="7.8" text-anchor="middle" fill="#1a1a1a" font-weight="bold">Age</text>
<text x="208.80" y="488.53" font-size="7.8" text-anchor="middle" fill="#1a1a1a" font-weight="bold">&lt;40</text>
<text x="279.30" y="480.93" font-size="7.8" text-anchor="middle" fill="#1a1a1a" font-weight="bold">Age</text>
<text x="279.30" y="489.73" font-size="7.8" text-anchor="middle" fill="#1a1a1a" font-weight="bold">40–59</text>
<text x="412.80" y="480.23" font-size="7.8" text-anchor="middle" fill="#1a1a1a" font-weight="bold">Age</text>
<text x="412.80" y="489.03" font-size="7.8" text-anchor="middle" fill="#1a1a1a" font-weight="bold">≥60</text>
<text transform="translate(179.00,524.40) rotate(-90)" x="0" y="0" font-size="7.7" text-anchor="middle" fill="#444" textLength="66.00" lengthAdjust="spacingAndGlyphs">Number of P/LP variants</text>
</svg>
</body></html>
